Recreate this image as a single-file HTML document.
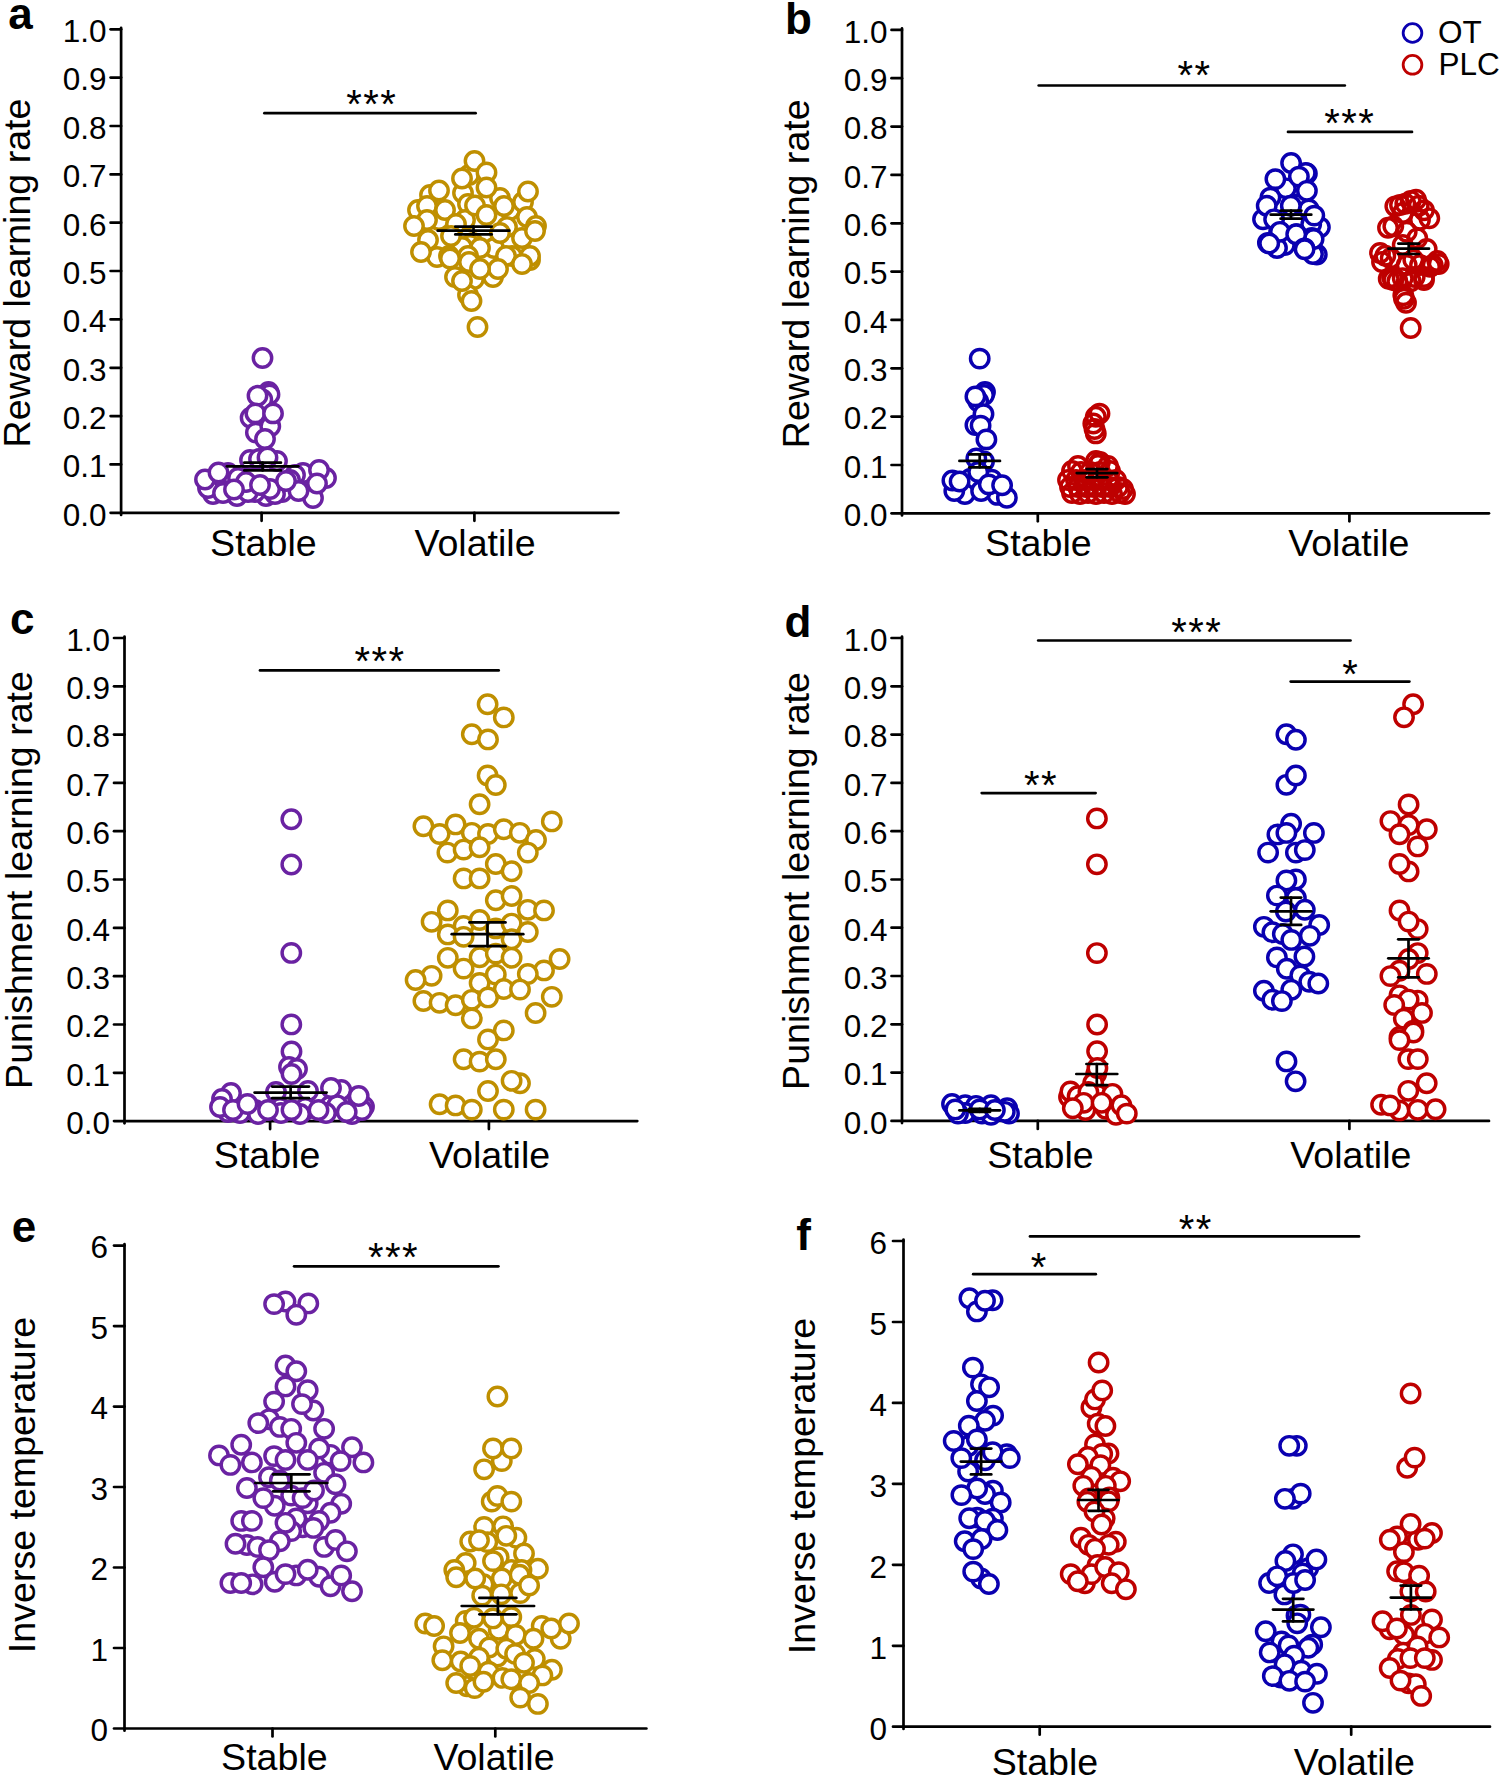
<!DOCTYPE html><html><head><meta charset="utf-8"><style>html,body{margin:0;padding:0;background:#fff;}body{width:1500px;height:1778px;overflow:hidden;}svg{display:block;}text{font-family:"Liberation Sans",sans-serif;fill:#000;}</style></head><body>
<svg width="1500" height="1778" viewBox="0 0 1500 1778">
<rect width="1500" height="1778" fill="#fff"/>
<text x="20.5" y="28.7" font-size="44" font-weight="bold" text-anchor="middle">a</text>
<text x="798.4" y="34" font-size="44" font-weight="bold" text-anchor="middle">b</text>
<text x="22.2" y="634" font-size="44" font-weight="bold" text-anchor="middle">c</text>
<text x="798.0" y="636.5" font-size="44" font-weight="bold" text-anchor="middle">d</text>
<text x="24.0" y="1242" font-size="44" font-weight="bold" text-anchor="middle">e</text>
<text x="803.5" y="1250" font-size="44" font-weight="bold" text-anchor="middle">f</text>
<text transform="translate(30,273) rotate(-90)" font-size="37.6" text-anchor="middle">Reward learning rate</text>
<text transform="translate(809,273.8) rotate(-90)" font-size="37.6" text-anchor="middle">Reward learning rate</text>
<text transform="translate(32,880) rotate(-90)" font-size="37.6" text-anchor="middle">Punishment learning rate</text>
<text transform="translate(809,881) rotate(-90)" font-size="37.6" text-anchor="middle">Punishment learning rate</text>
<text transform="translate(35,1485) rotate(-90)" font-size="37.6" text-anchor="middle">Inverse temperature</text>
<text transform="translate(815,1486) rotate(-90)" font-size="37.6" text-anchor="middle">Inverse temperature</text>
<text x="263.4" y="556.3" font-size="37.6" text-anchor="middle">Stable</text>
<text x="475.0" y="556.3" font-size="37.6" text-anchor="middle">Volatile</text>
<text x="1038.4" y="556.3" font-size="37.6" text-anchor="middle">Stable</text>
<text x="1348.8" y="556.3" font-size="37.6" text-anchor="middle">Volatile</text>
<text x="267.1" y="1168.2" font-size="37.6" text-anchor="middle">Stable</text>
<text x="489.6" y="1168.2" font-size="37.6" text-anchor="middle">Volatile</text>
<text x="1040.5" y="1168.0" font-size="37.6" text-anchor="middle">Stable</text>
<text x="1350.9" y="1168.0" font-size="37.6" text-anchor="middle">Volatile</text>
<text x="274.4" y="1770.4" font-size="37.6" text-anchor="middle">Stable</text>
<text x="494.0" y="1770.4" font-size="37.6" text-anchor="middle">Volatile</text>
<text x="1045.0" y="1774.5" font-size="37.6" text-anchor="middle">Stable</text>
<text x="1354.4" y="1774.5" font-size="37.6" text-anchor="middle">Volatile</text>
<line x1="121.1" y1="27.8" x2="121.1" y2="515.0" stroke="#000" stroke-width="2.7" stroke-linecap="round"/>
<line x1="121.1" y1="512.8" x2="618.4" y2="512.8" stroke="#000" stroke-width="2.7" stroke-linecap="round"/>
<line x1="110.6" y1="512.8" x2="121.1" y2="512.8" stroke="#000" stroke-width="2.7" stroke-linecap="round"/>
<text x="106.6" y="525.6" font-size="31.5" text-anchor="end">0.0</text>
<line x1="110.6" y1="464.4" x2="121.1" y2="464.4" stroke="#000" stroke-width="2.7" stroke-linecap="round"/>
<text x="106.6" y="477.2" font-size="31.5" text-anchor="end">0.1</text>
<line x1="110.6" y1="416.1" x2="121.1" y2="416.1" stroke="#000" stroke-width="2.7" stroke-linecap="round"/>
<text x="106.6" y="428.9" font-size="31.5" text-anchor="end">0.2</text>
<line x1="110.6" y1="367.8" x2="121.1" y2="367.8" stroke="#000" stroke-width="2.7" stroke-linecap="round"/>
<text x="106.6" y="380.6" font-size="31.5" text-anchor="end">0.3</text>
<line x1="110.6" y1="319.4" x2="121.1" y2="319.4" stroke="#000" stroke-width="2.7" stroke-linecap="round"/>
<text x="106.6" y="332.2" font-size="31.5" text-anchor="end">0.4</text>
<line x1="110.6" y1="271.0" x2="121.1" y2="271.0" stroke="#000" stroke-width="2.7" stroke-linecap="round"/>
<text x="106.6" y="283.8" font-size="31.5" text-anchor="end">0.5</text>
<line x1="110.6" y1="222.7" x2="121.1" y2="222.7" stroke="#000" stroke-width="2.7" stroke-linecap="round"/>
<text x="106.6" y="235.5" font-size="31.5" text-anchor="end">0.6</text>
<line x1="110.6" y1="174.4" x2="121.1" y2="174.4" stroke="#000" stroke-width="2.7" stroke-linecap="round"/>
<text x="106.6" y="187.2" font-size="31.5" text-anchor="end">0.7</text>
<line x1="110.6" y1="126.0" x2="121.1" y2="126.0" stroke="#000" stroke-width="2.7" stroke-linecap="round"/>
<text x="106.6" y="138.8" font-size="31.5" text-anchor="end">0.8</text>
<line x1="110.6" y1="77.6" x2="121.1" y2="77.6" stroke="#000" stroke-width="2.7" stroke-linecap="round"/>
<text x="106.6" y="90.4" font-size="31.5" text-anchor="end">0.9</text>
<line x1="110.6" y1="29.3" x2="121.1" y2="29.3" stroke="#000" stroke-width="2.7" stroke-linecap="round"/>
<text x="106.6" y="42.1" font-size="31.5" text-anchor="end">1.0</text>
<line x1="261.6" y1="512.8" x2="261.6" y2="520.8" stroke="#000" stroke-width="2.7" stroke-linecap="round"/>
<line x1="474.4" y1="512.8" x2="474.4" y2="520.8" stroke="#000" stroke-width="2.7" stroke-linecap="round"/>
<line x1="902.0" y1="28.4" x2="902.0" y2="515.5" stroke="#000" stroke-width="2.7" stroke-linecap="round"/>
<line x1="902.0" y1="513.3" x2="1489.0" y2="513.3" stroke="#000" stroke-width="2.7" stroke-linecap="round"/>
<line x1="891.5" y1="513.3" x2="902.0" y2="513.3" stroke="#000" stroke-width="2.7" stroke-linecap="round"/>
<text x="887.5" y="526.1" font-size="31.5" text-anchor="end">0.0</text>
<line x1="891.5" y1="465.0" x2="902.0" y2="465.0" stroke="#000" stroke-width="2.7" stroke-linecap="round"/>
<text x="887.5" y="477.8" font-size="31.5" text-anchor="end">0.1</text>
<line x1="891.5" y1="416.6" x2="902.0" y2="416.6" stroke="#000" stroke-width="2.7" stroke-linecap="round"/>
<text x="887.5" y="429.4" font-size="31.5" text-anchor="end">0.2</text>
<line x1="891.5" y1="368.3" x2="902.0" y2="368.3" stroke="#000" stroke-width="2.7" stroke-linecap="round"/>
<text x="887.5" y="381.1" font-size="31.5" text-anchor="end">0.3</text>
<line x1="891.5" y1="319.9" x2="902.0" y2="319.9" stroke="#000" stroke-width="2.7" stroke-linecap="round"/>
<text x="887.5" y="332.7" font-size="31.5" text-anchor="end">0.4</text>
<line x1="891.5" y1="271.6" x2="902.0" y2="271.6" stroke="#000" stroke-width="2.7" stroke-linecap="round"/>
<text x="887.5" y="284.4" font-size="31.5" text-anchor="end">0.5</text>
<line x1="891.5" y1="223.3" x2="902.0" y2="223.3" stroke="#000" stroke-width="2.7" stroke-linecap="round"/>
<text x="887.5" y="236.1" font-size="31.5" text-anchor="end">0.6</text>
<line x1="891.5" y1="174.9" x2="902.0" y2="174.9" stroke="#000" stroke-width="2.7" stroke-linecap="round"/>
<text x="887.5" y="187.7" font-size="31.5" text-anchor="end">0.7</text>
<line x1="891.5" y1="126.6" x2="902.0" y2="126.6" stroke="#000" stroke-width="2.7" stroke-linecap="round"/>
<text x="887.5" y="139.4" font-size="31.5" text-anchor="end">0.8</text>
<line x1="891.5" y1="78.2" x2="902.0" y2="78.2" stroke="#000" stroke-width="2.7" stroke-linecap="round"/>
<text x="887.5" y="91.0" font-size="31.5" text-anchor="end">0.9</text>
<line x1="891.5" y1="29.9" x2="902.0" y2="29.9" stroke="#000" stroke-width="2.7" stroke-linecap="round"/>
<text x="887.5" y="42.7" font-size="31.5" text-anchor="end">1.0</text>
<line x1="1037.8" y1="513.3" x2="1037.8" y2="521.3" stroke="#000" stroke-width="2.7" stroke-linecap="round"/>
<line x1="1349.4" y1="513.3" x2="1349.4" y2="521.3" stroke="#000" stroke-width="2.7" stroke-linecap="round"/>
<line x1="124.5" y1="636.5" x2="124.5" y2="1123.3" stroke="#000" stroke-width="2.7" stroke-linecap="round"/>
<line x1="124.5" y1="1121.1" x2="637.3" y2="1121.1" stroke="#000" stroke-width="2.7" stroke-linecap="round"/>
<line x1="114.0" y1="1121.1" x2="124.5" y2="1121.1" stroke="#000" stroke-width="2.7" stroke-linecap="round"/>
<text x="110.0" y="1133.9" font-size="31.5" text-anchor="end">0.0</text>
<line x1="114.0" y1="1072.8" x2="124.5" y2="1072.8" stroke="#000" stroke-width="2.7" stroke-linecap="round"/>
<text x="110.0" y="1085.6" font-size="31.5" text-anchor="end">0.1</text>
<line x1="114.0" y1="1024.5" x2="124.5" y2="1024.5" stroke="#000" stroke-width="2.7" stroke-linecap="round"/>
<text x="110.0" y="1037.3" font-size="31.5" text-anchor="end">0.2</text>
<line x1="114.0" y1="976.2" x2="124.5" y2="976.2" stroke="#000" stroke-width="2.7" stroke-linecap="round"/>
<text x="110.0" y="989.0" font-size="31.5" text-anchor="end">0.3</text>
<line x1="114.0" y1="927.9" x2="124.5" y2="927.9" stroke="#000" stroke-width="2.7" stroke-linecap="round"/>
<text x="110.0" y="940.7" font-size="31.5" text-anchor="end">0.4</text>
<line x1="114.0" y1="879.5" x2="124.5" y2="879.5" stroke="#000" stroke-width="2.7" stroke-linecap="round"/>
<text x="110.0" y="892.3" font-size="31.5" text-anchor="end">0.5</text>
<line x1="114.0" y1="831.2" x2="124.5" y2="831.2" stroke="#000" stroke-width="2.7" stroke-linecap="round"/>
<text x="110.0" y="844.0" font-size="31.5" text-anchor="end">0.6</text>
<line x1="114.0" y1="782.9" x2="124.5" y2="782.9" stroke="#000" stroke-width="2.7" stroke-linecap="round"/>
<text x="110.0" y="795.7" font-size="31.5" text-anchor="end">0.7</text>
<line x1="114.0" y1="734.6" x2="124.5" y2="734.6" stroke="#000" stroke-width="2.7" stroke-linecap="round"/>
<text x="110.0" y="747.4" font-size="31.5" text-anchor="end">0.8</text>
<line x1="114.0" y1="686.3" x2="124.5" y2="686.3" stroke="#000" stroke-width="2.7" stroke-linecap="round"/>
<text x="110.0" y="699.1" font-size="31.5" text-anchor="end">0.9</text>
<line x1="114.0" y1="638.0" x2="124.5" y2="638.0" stroke="#000" stroke-width="2.7" stroke-linecap="round"/>
<text x="110.0" y="650.8" font-size="31.5" text-anchor="end">1.0</text>
<line x1="270.1" y1="1121.1" x2="270.1" y2="1129.1" stroke="#000" stroke-width="2.7" stroke-linecap="round"/>
<line x1="488.9" y1="1121.1" x2="488.9" y2="1129.1" stroke="#000" stroke-width="2.7" stroke-linecap="round"/>
<line x1="902.0" y1="636.5" x2="902.0" y2="1123.1" stroke="#000" stroke-width="2.7" stroke-linecap="round"/>
<line x1="902.0" y1="1120.9" x2="1489.0" y2="1120.9" stroke="#000" stroke-width="2.7" stroke-linecap="round"/>
<line x1="891.5" y1="1120.9" x2="902.0" y2="1120.9" stroke="#000" stroke-width="2.7" stroke-linecap="round"/>
<text x="887.5" y="1133.7" font-size="31.5" text-anchor="end">0.0</text>
<line x1="891.5" y1="1072.6" x2="902.0" y2="1072.6" stroke="#000" stroke-width="2.7" stroke-linecap="round"/>
<text x="887.5" y="1085.4" font-size="31.5" text-anchor="end">0.1</text>
<line x1="891.5" y1="1024.3" x2="902.0" y2="1024.3" stroke="#000" stroke-width="2.7" stroke-linecap="round"/>
<text x="887.5" y="1037.1" font-size="31.5" text-anchor="end">0.2</text>
<line x1="891.5" y1="976.0" x2="902.0" y2="976.0" stroke="#000" stroke-width="2.7" stroke-linecap="round"/>
<text x="887.5" y="988.8" font-size="31.5" text-anchor="end">0.3</text>
<line x1="891.5" y1="927.7" x2="902.0" y2="927.7" stroke="#000" stroke-width="2.7" stroke-linecap="round"/>
<text x="887.5" y="940.5" font-size="31.5" text-anchor="end">0.4</text>
<line x1="891.5" y1="879.5" x2="902.0" y2="879.5" stroke="#000" stroke-width="2.7" stroke-linecap="round"/>
<text x="887.5" y="892.2" font-size="31.5" text-anchor="end">0.5</text>
<line x1="891.5" y1="831.2" x2="902.0" y2="831.2" stroke="#000" stroke-width="2.7" stroke-linecap="round"/>
<text x="887.5" y="844.0" font-size="31.5" text-anchor="end">0.6</text>
<line x1="891.5" y1="782.9" x2="902.0" y2="782.9" stroke="#000" stroke-width="2.7" stroke-linecap="round"/>
<text x="887.5" y="795.7" font-size="31.5" text-anchor="end">0.7</text>
<line x1="891.5" y1="734.6" x2="902.0" y2="734.6" stroke="#000" stroke-width="2.7" stroke-linecap="round"/>
<text x="887.5" y="747.4" font-size="31.5" text-anchor="end">0.8</text>
<line x1="891.5" y1="686.3" x2="902.0" y2="686.3" stroke="#000" stroke-width="2.7" stroke-linecap="round"/>
<text x="887.5" y="699.1" font-size="31.5" text-anchor="end">0.9</text>
<line x1="891.5" y1="638.0" x2="902.0" y2="638.0" stroke="#000" stroke-width="2.7" stroke-linecap="round"/>
<text x="887.5" y="650.8" font-size="31.5" text-anchor="end">1.0</text>
<line x1="1037.8" y1="1120.9" x2="1037.8" y2="1128.9" stroke="#000" stroke-width="2.7" stroke-linecap="round"/>
<line x1="1349.4" y1="1120.9" x2="1349.4" y2="1128.9" stroke="#000" stroke-width="2.7" stroke-linecap="round"/>
<line x1="124.5" y1="1244.1" x2="124.5" y2="1730.7" stroke="#000" stroke-width="2.7" stroke-linecap="round"/>
<line x1="124.5" y1="1728.5" x2="646.4" y2="1728.5" stroke="#000" stroke-width="2.7" stroke-linecap="round"/>
<line x1="114.0" y1="1728.5" x2="124.5" y2="1728.5" stroke="#000" stroke-width="2.7" stroke-linecap="round"/>
<text x="108.0" y="1741.3" font-size="31.5" text-anchor="end">0</text>
<line x1="114.0" y1="1648.0" x2="124.5" y2="1648.0" stroke="#000" stroke-width="2.7" stroke-linecap="round"/>
<text x="108.0" y="1660.8" font-size="31.5" text-anchor="end">1</text>
<line x1="114.0" y1="1567.5" x2="124.5" y2="1567.5" stroke="#000" stroke-width="2.7" stroke-linecap="round"/>
<text x="108.0" y="1580.3" font-size="31.5" text-anchor="end">2</text>
<line x1="114.0" y1="1487.0" x2="124.5" y2="1487.0" stroke="#000" stroke-width="2.7" stroke-linecap="round"/>
<text x="108.0" y="1499.8" font-size="31.5" text-anchor="end">3</text>
<line x1="114.0" y1="1406.6" x2="124.5" y2="1406.6" stroke="#000" stroke-width="2.7" stroke-linecap="round"/>
<text x="108.0" y="1419.4" font-size="31.5" text-anchor="end">4</text>
<line x1="114.0" y1="1326.1" x2="124.5" y2="1326.1" stroke="#000" stroke-width="2.7" stroke-linecap="round"/>
<text x="108.0" y="1338.9" font-size="31.5" text-anchor="end">5</text>
<line x1="114.0" y1="1245.6" x2="124.5" y2="1245.6" stroke="#000" stroke-width="2.7" stroke-linecap="round"/>
<text x="108.0" y="1258.4" font-size="31.5" text-anchor="end">6</text>
<line x1="272.5" y1="1728.5" x2="272.5" y2="1736.5" stroke="#000" stroke-width="2.7" stroke-linecap="round"/>
<line x1="495.3" y1="1728.5" x2="495.3" y2="1736.5" stroke="#000" stroke-width="2.7" stroke-linecap="round"/>
<line x1="903.5" y1="1239.5" x2="903.5" y2="1728.9" stroke="#000" stroke-width="2.7" stroke-linecap="round"/>
<line x1="903.5" y1="1726.7" x2="1490.0" y2="1726.7" stroke="#000" stroke-width="2.7" stroke-linecap="round"/>
<line x1="893.0" y1="1726.7" x2="903.5" y2="1726.7" stroke="#000" stroke-width="2.7" stroke-linecap="round"/>
<text x="887.0" y="1739.5" font-size="31.5" text-anchor="end">0</text>
<line x1="893.0" y1="1645.8" x2="903.5" y2="1645.8" stroke="#000" stroke-width="2.7" stroke-linecap="round"/>
<text x="887.0" y="1658.5" font-size="31.5" text-anchor="end">1</text>
<line x1="893.0" y1="1564.8" x2="903.5" y2="1564.8" stroke="#000" stroke-width="2.7" stroke-linecap="round"/>
<text x="887.0" y="1577.6" font-size="31.5" text-anchor="end">2</text>
<line x1="893.0" y1="1483.8" x2="903.5" y2="1483.8" stroke="#000" stroke-width="2.7" stroke-linecap="round"/>
<text x="887.0" y="1496.6" font-size="31.5" text-anchor="end">3</text>
<line x1="893.0" y1="1402.9" x2="903.5" y2="1402.9" stroke="#000" stroke-width="2.7" stroke-linecap="round"/>
<text x="887.0" y="1415.7" font-size="31.5" text-anchor="end">4</text>
<line x1="893.0" y1="1322.0" x2="903.5" y2="1322.0" stroke="#000" stroke-width="2.7" stroke-linecap="round"/>
<text x="887.0" y="1334.8" font-size="31.5" text-anchor="end">5</text>
<line x1="893.0" y1="1241.0" x2="903.5" y2="1241.0" stroke="#000" stroke-width="2.7" stroke-linecap="round"/>
<text x="887.0" y="1253.8" font-size="31.5" text-anchor="end">6</text>
<line x1="1039.7" y1="1726.7" x2="1039.7" y2="1734.7" stroke="#000" stroke-width="2.7" stroke-linecap="round"/>
<line x1="1351.2" y1="1726.7" x2="1351.2" y2="1734.7" stroke="#000" stroke-width="2.7" stroke-linecap="round"/>
<circle cx="1412.5" cy="33" r="9.35" fill="#fff" stroke="#0a00b0" stroke-width="2.8"/>
<circle cx="1412.5" cy="64.8" r="9.35" fill="#fff" stroke="#be0000" stroke-width="2.8"/>
<text x="1438" y="43.4" font-size="31.5">OT</text>
<text x="1438.5" y="75" font-size="31.5">PLC</text>
<circle cx="262.5" cy="358.0" r="9.2" fill="#fff" stroke="#6a22a2" stroke-width="3.45"/>
<circle cx="268.5" cy="392.0" r="9.2" fill="#fff" stroke="#6a22a2" stroke-width="3.45"/>
<circle cx="269.5" cy="394.5" r="9.2" fill="#fff" stroke="#6a22a2" stroke-width="3.45"/>
<circle cx="262.3" cy="399.5" r="9.2" fill="#fff" stroke="#6a22a2" stroke-width="3.45"/>
<circle cx="257.5" cy="395.8" r="9.2" fill="#fff" stroke="#6a22a2" stroke-width="3.45"/>
<circle cx="250.6" cy="417.7" r="9.2" fill="#fff" stroke="#6a22a2" stroke-width="3.45"/>
<circle cx="255.9" cy="432.6" r="9.2" fill="#fff" stroke="#6a22a2" stroke-width="3.45"/>
<circle cx="270.3" cy="426.2" r="9.2" fill="#fff" stroke="#6a22a2" stroke-width="3.45"/>
<circle cx="255.4" cy="413.4" r="9.2" fill="#fff" stroke="#6a22a2" stroke-width="3.45"/>
<circle cx="273.0" cy="413.4" r="9.2" fill="#fff" stroke="#6a22a2" stroke-width="3.45"/>
<circle cx="265.0" cy="439.0" r="9.2" fill="#fff" stroke="#6a22a2" stroke-width="3.45"/>
<circle cx="250.0" cy="460.0" r="9.2" fill="#fff" stroke="#6a22a2" stroke-width="3.45"/>
<circle cx="259.0" cy="459.0" r="9.2" fill="#fff" stroke="#6a22a2" stroke-width="3.45"/>
<circle cx="277.0" cy="461.0" r="9.2" fill="#fff" stroke="#6a22a2" stroke-width="3.45"/>
<circle cx="267.5" cy="457.5" r="9.2" fill="#fff" stroke="#6a22a2" stroke-width="3.45"/>
<circle cx="266.0" cy="496.0" r="9.2" fill="#fff" stroke="#6a22a2" stroke-width="3.45"/>
<circle cx="237.0" cy="496.0" r="9.2" fill="#fff" stroke="#6a22a2" stroke-width="3.45"/>
<circle cx="255.0" cy="492.0" r="9.2" fill="#fff" stroke="#6a22a2" stroke-width="3.45"/>
<circle cx="213.0" cy="494.0" r="9.2" fill="#fff" stroke="#6a22a2" stroke-width="3.45"/>
<circle cx="228.0" cy="473.0" r="9.2" fill="#fff" stroke="#6a22a2" stroke-width="3.45"/>
<circle cx="238.0" cy="478.0" r="9.2" fill="#fff" stroke="#6a22a2" stroke-width="3.45"/>
<circle cx="300.0" cy="480.0" r="9.2" fill="#fff" stroke="#6a22a2" stroke-width="3.45"/>
<circle cx="303.0" cy="473.0" r="9.2" fill="#fff" stroke="#6a22a2" stroke-width="3.45"/>
<circle cx="295.0" cy="475.0" r="9.2" fill="#fff" stroke="#6a22a2" stroke-width="3.45"/>
<circle cx="290.0" cy="480.0" r="9.2" fill="#fff" stroke="#6a22a2" stroke-width="3.45"/>
<circle cx="282.0" cy="492.0" r="9.2" fill="#fff" stroke="#6a22a2" stroke-width="3.45"/>
<circle cx="275.0" cy="494.0" r="9.2" fill="#fff" stroke="#6a22a2" stroke-width="3.45"/>
<circle cx="270.0" cy="489.0" r="9.2" fill="#fff" stroke="#6a22a2" stroke-width="3.45"/>
<circle cx="248.0" cy="492.0" r="9.2" fill="#fff" stroke="#6a22a2" stroke-width="3.45"/>
<circle cx="246.0" cy="482.0" r="9.2" fill="#fff" stroke="#6a22a2" stroke-width="3.45"/>
<circle cx="208.0" cy="488.0" r="9.2" fill="#fff" stroke="#6a22a2" stroke-width="3.45"/>
<circle cx="223.0" cy="493.0" r="9.2" fill="#fff" stroke="#6a22a2" stroke-width="3.45"/>
<circle cx="326.0" cy="478.0" r="9.2" fill="#fff" stroke="#6a22a2" stroke-width="3.45"/>
<circle cx="313.0" cy="498.0" r="9.2" fill="#fff" stroke="#6a22a2" stroke-width="3.45"/>
<circle cx="319.0" cy="470.0" r="9.2" fill="#fff" stroke="#6a22a2" stroke-width="3.45"/>
<circle cx="317.0" cy="483.5" r="9.2" fill="#fff" stroke="#6a22a2" stroke-width="3.45"/>
<circle cx="298.5" cy="491.0" r="9.2" fill="#fff" stroke="#6a22a2" stroke-width="3.45"/>
<circle cx="286.0" cy="481.0" r="9.2" fill="#fff" stroke="#6a22a2" stroke-width="3.45"/>
<circle cx="260.0" cy="485.0" r="9.2" fill="#fff" stroke="#6a22a2" stroke-width="3.45"/>
<circle cx="234.0" cy="489.5" r="9.2" fill="#fff" stroke="#6a22a2" stroke-width="3.45"/>
<circle cx="205.0" cy="479.5" r="9.2" fill="#fff" stroke="#6a22a2" stroke-width="3.45"/>
<circle cx="218.5" cy="472.5" r="9.2" fill="#fff" stroke="#6a22a2" stroke-width="3.45"/>
<circle cx="469.0" cy="175.0" r="9.2" fill="#fff" stroke="#bf8f00" stroke-width="3.45"/>
<circle cx="430.0" cy="195.0" r="9.2" fill="#fff" stroke="#bf8f00" stroke-width="3.45"/>
<circle cx="418.0" cy="210.0" r="9.2" fill="#fff" stroke="#bf8f00" stroke-width="3.45"/>
<circle cx="463.0" cy="193.0" r="9.2" fill="#fff" stroke="#bf8f00" stroke-width="3.45"/>
<circle cx="468.0" cy="204.0" r="9.2" fill="#fff" stroke="#bf8f00" stroke-width="3.45"/>
<circle cx="500.0" cy="198.0" r="9.2" fill="#fff" stroke="#bf8f00" stroke-width="3.45"/>
<circle cx="510.0" cy="210.0" r="9.2" fill="#fff" stroke="#bf8f00" stroke-width="3.45"/>
<circle cx="523.0" cy="202.0" r="9.2" fill="#fff" stroke="#bf8f00" stroke-width="3.45"/>
<circle cx="439.0" cy="220.0" r="9.2" fill="#fff" stroke="#bf8f00" stroke-width="3.45"/>
<circle cx="507.0" cy="227.0" r="9.2" fill="#fff" stroke="#bf8f00" stroke-width="3.45"/>
<circle cx="473.0" cy="243.0" r="9.2" fill="#fff" stroke="#bf8f00" stroke-width="3.45"/>
<circle cx="494.0" cy="248.0" r="9.2" fill="#fff" stroke="#bf8f00" stroke-width="3.45"/>
<circle cx="465.0" cy="220.0" r="9.2" fill="#fff" stroke="#bf8f00" stroke-width="3.45"/>
<circle cx="470.0" cy="245.0" r="9.2" fill="#fff" stroke="#bf8f00" stroke-width="3.45"/>
<circle cx="462.0" cy="247.0" r="9.2" fill="#fff" stroke="#bf8f00" stroke-width="3.45"/>
<circle cx="437.0" cy="257.0" r="9.2" fill="#fff" stroke="#bf8f00" stroke-width="3.45"/>
<circle cx="530.0" cy="260.0" r="9.2" fill="#fff" stroke="#bf8f00" stroke-width="3.45"/>
<circle cx="493.0" cy="277.0" r="9.2" fill="#fff" stroke="#bf8f00" stroke-width="3.45"/>
<circle cx="455.0" cy="277.0" r="9.2" fill="#fff" stroke="#bf8f00" stroke-width="3.45"/>
<circle cx="474.0" cy="279.0" r="9.2" fill="#fff" stroke="#bf8f00" stroke-width="3.45"/>
<circle cx="468.0" cy="295.0" r="9.2" fill="#fff" stroke="#bf8f00" stroke-width="3.45"/>
<circle cx="474.5" cy="161.0" r="9.2" fill="#fff" stroke="#bf8f00" stroke-width="3.45"/>
<circle cx="486.5" cy="172.5" r="9.2" fill="#fff" stroke="#bf8f00" stroke-width="3.45"/>
<circle cx="462.0" cy="178.5" r="9.2" fill="#fff" stroke="#bf8f00" stroke-width="3.45"/>
<circle cx="486.5" cy="187.5" r="9.2" fill="#fff" stroke="#bf8f00" stroke-width="3.45"/>
<circle cx="439.0" cy="190.5" r="9.2" fill="#fff" stroke="#bf8f00" stroke-width="3.45"/>
<circle cx="528.0" cy="191.5" r="9.2" fill="#fff" stroke="#bf8f00" stroke-width="3.45"/>
<circle cx="427.0" cy="206.0" r="9.2" fill="#fff" stroke="#bf8f00" stroke-width="3.45"/>
<circle cx="445.0" cy="210.0" r="9.2" fill="#fff" stroke="#bf8f00" stroke-width="3.45"/>
<circle cx="475.0" cy="205.5" r="9.2" fill="#fff" stroke="#bf8f00" stroke-width="3.45"/>
<circle cx="504.0" cy="206.0" r="9.2" fill="#fff" stroke="#bf8f00" stroke-width="3.45"/>
<circle cx="486.5" cy="215.0" r="9.2" fill="#fff" stroke="#bf8f00" stroke-width="3.45"/>
<circle cx="527.0" cy="217.0" r="9.2" fill="#fff" stroke="#bf8f00" stroke-width="3.45"/>
<circle cx="427.0" cy="220.0" r="9.2" fill="#fff" stroke="#bf8f00" stroke-width="3.45"/>
<circle cx="414.0" cy="226.0" r="9.2" fill="#fff" stroke="#bf8f00" stroke-width="3.45"/>
<circle cx="456.0" cy="224.0" r="9.2" fill="#fff" stroke="#bf8f00" stroke-width="3.45"/>
<circle cx="536.0" cy="226.0" r="9.2" fill="#fff" stroke="#bf8f00" stroke-width="3.45"/>
<circle cx="500.0" cy="233.0" r="9.2" fill="#fff" stroke="#bf8f00" stroke-width="3.45"/>
<circle cx="522.0" cy="238.0" r="9.2" fill="#fff" stroke="#bf8f00" stroke-width="3.45"/>
<circle cx="451.0" cy="236.0" r="9.2" fill="#fff" stroke="#bf8f00" stroke-width="3.45"/>
<circle cx="428.0" cy="240.0" r="9.2" fill="#fff" stroke="#bf8f00" stroke-width="3.45"/>
<circle cx="421.0" cy="252.0" r="9.2" fill="#fff" stroke="#bf8f00" stroke-width="3.45"/>
<circle cx="480.0" cy="248.0" r="9.2" fill="#fff" stroke="#bf8f00" stroke-width="3.45"/>
<circle cx="449.0" cy="256.0" r="9.2" fill="#fff" stroke="#bf8f00" stroke-width="3.45"/>
<circle cx="530.0" cy="256.0" r="9.2" fill="#fff" stroke="#bf8f00" stroke-width="3.45"/>
<circle cx="512.0" cy="256.0" r="9.2" fill="#fff" stroke="#bf8f00" stroke-width="3.45"/>
<circle cx="468.0" cy="256.0" r="9.2" fill="#fff" stroke="#bf8f00" stroke-width="3.45"/>
<circle cx="535.0" cy="231.0" r="9.2" fill="#fff" stroke="#bf8f00" stroke-width="3.45"/>
<circle cx="450.0" cy="258.5" r="9.2" fill="#fff" stroke="#bf8f00" stroke-width="3.45"/>
<circle cx="469.0" cy="262.0" r="9.2" fill="#fff" stroke="#bf8f00" stroke-width="3.45"/>
<circle cx="506.0" cy="256.0" r="9.2" fill="#fff" stroke="#bf8f00" stroke-width="3.45"/>
<circle cx="522.0" cy="264.0" r="9.2" fill="#fff" stroke="#bf8f00" stroke-width="3.45"/>
<circle cx="498.0" cy="269.0" r="9.2" fill="#fff" stroke="#bf8f00" stroke-width="3.45"/>
<circle cx="480.0" cy="269.0" r="9.2" fill="#fff" stroke="#bf8f00" stroke-width="3.45"/>
<circle cx="462.0" cy="281.0" r="9.2" fill="#fff" stroke="#bf8f00" stroke-width="3.45"/>
<circle cx="471.5" cy="301.0" r="9.2" fill="#fff" stroke="#bf8f00" stroke-width="3.45"/>
<circle cx="477.5" cy="327.0" r="9.2" fill="#fff" stroke="#bf8f00" stroke-width="3.45"/>
<circle cx="979.7" cy="358.6" r="9.2" fill="#fff" stroke="#0a00b0" stroke-width="3.45"/>
<circle cx="985.0" cy="392.0" r="9.2" fill="#fff" stroke="#0a00b0" stroke-width="3.45"/>
<circle cx="984.0" cy="395.0" r="9.2" fill="#fff" stroke="#0a00b0" stroke-width="3.45"/>
<circle cx="978.2" cy="401.2" r="9.2" fill="#fff" stroke="#0a00b0" stroke-width="3.45"/>
<circle cx="975.4" cy="396.4" r="9.2" fill="#fff" stroke="#0a00b0" stroke-width="3.45"/>
<circle cx="975.4" cy="425.1" r="9.2" fill="#fff" stroke="#0a00b0" stroke-width="3.45"/>
<circle cx="983.5" cy="414.1" r="9.2" fill="#fff" stroke="#0a00b0" stroke-width="3.45"/>
<circle cx="980.6" cy="425.6" r="9.2" fill="#fff" stroke="#0a00b0" stroke-width="3.45"/>
<circle cx="986.4" cy="439.4" r="9.2" fill="#fff" stroke="#0a00b0" stroke-width="3.45"/>
<circle cx="984.0" cy="461.4" r="9.2" fill="#fff" stroke="#0a00b0" stroke-width="3.45"/>
<circle cx="976.3" cy="458.5" r="9.2" fill="#fff" stroke="#0a00b0" stroke-width="3.45"/>
<circle cx="970.6" cy="478.6" r="9.2" fill="#fff" stroke="#0a00b0" stroke-width="3.45"/>
<circle cx="991.6" cy="479.6" r="9.2" fill="#fff" stroke="#0a00b0" stroke-width="3.45"/>
<circle cx="997.4" cy="494.9" r="9.2" fill="#fff" stroke="#0a00b0" stroke-width="3.45"/>
<circle cx="978.2" cy="472.0" r="9.2" fill="#fff" stroke="#0a00b0" stroke-width="3.45"/>
<circle cx="964.9" cy="494.0" r="9.2" fill="#fff" stroke="#0a00b0" stroke-width="3.45"/>
<circle cx="954.3" cy="491.0" r="9.2" fill="#fff" stroke="#0a00b0" stroke-width="3.45"/>
<circle cx="952.4" cy="480.5" r="9.2" fill="#fff" stroke="#0a00b0" stroke-width="3.45"/>
<circle cx="959.6" cy="481.5" r="9.2" fill="#fff" stroke="#0a00b0" stroke-width="3.45"/>
<circle cx="981.1" cy="491.0" r="9.2" fill="#fff" stroke="#0a00b0" stroke-width="3.45"/>
<circle cx="988.8" cy="484.4" r="9.2" fill="#fff" stroke="#0a00b0" stroke-width="3.45"/>
<circle cx="1006.9" cy="497.7" r="9.2" fill="#fff" stroke="#0a00b0" stroke-width="3.45"/>
<circle cx="1002.1" cy="485.3" r="9.2" fill="#fff" stroke="#0a00b0" stroke-width="3.45"/>
<circle cx="1099.5" cy="413.6" r="9.2" fill="none" stroke="#be0000" stroke-width="3.45"/>
<circle cx="1095.8" cy="416.7" r="9.2" fill="none" stroke="#be0000" stroke-width="3.45"/>
<circle cx="1093.3" cy="423.5" r="9.2" fill="none" stroke="#be0000" stroke-width="3.45"/>
<circle cx="1094.5" cy="429.0" r="9.2" fill="none" stroke="#be0000" stroke-width="3.45"/>
<circle cx="1095.8" cy="433.4" r="9.2" fill="none" stroke="#be0000" stroke-width="3.45"/>
<circle cx="1096.0" cy="461.0" r="9.2" fill="none" stroke="#be0000" stroke-width="3.45"/>
<circle cx="1100.0" cy="462.0" r="9.2" fill="none" stroke="#be0000" stroke-width="3.45"/>
<circle cx="1078.0" cy="466.0" r="9.2" fill="none" stroke="#be0000" stroke-width="3.45"/>
<circle cx="1098.0" cy="465.0" r="9.2" fill="none" stroke="#be0000" stroke-width="3.45"/>
<circle cx="1108.0" cy="466.0" r="9.2" fill="none" stroke="#be0000" stroke-width="3.45"/>
<circle cx="1072.0" cy="471.0" r="9.2" fill="none" stroke="#be0000" stroke-width="3.45"/>
<circle cx="1081.0" cy="472.0" r="9.2" fill="none" stroke="#be0000" stroke-width="3.45"/>
<circle cx="1090.0" cy="472.0" r="9.2" fill="none" stroke="#be0000" stroke-width="3.45"/>
<circle cx="1100.0" cy="472.0" r="9.2" fill="none" stroke="#be0000" stroke-width="3.45"/>
<circle cx="1110.0" cy="471.0" r="9.2" fill="none" stroke="#be0000" stroke-width="3.45"/>
<circle cx="1068.0" cy="480.0" r="9.2" fill="none" stroke="#be0000" stroke-width="3.45"/>
<circle cx="1076.0" cy="480.0" r="9.2" fill="none" stroke="#be0000" stroke-width="3.45"/>
<circle cx="1084.0" cy="480.0" r="9.2" fill="none" stroke="#be0000" stroke-width="3.45"/>
<circle cx="1092.0" cy="480.0" r="9.2" fill="none" stroke="#be0000" stroke-width="3.45"/>
<circle cx="1100.0" cy="480.0" r="9.2" fill="none" stroke="#be0000" stroke-width="3.45"/>
<circle cx="1108.0" cy="480.0" r="9.2" fill="none" stroke="#be0000" stroke-width="3.45"/>
<circle cx="1116.0" cy="480.0" r="9.2" fill="none" stroke="#be0000" stroke-width="3.45"/>
<circle cx="1070.0" cy="487.0" r="9.2" fill="none" stroke="#be0000" stroke-width="3.45"/>
<circle cx="1078.0" cy="487.0" r="9.2" fill="none" stroke="#be0000" stroke-width="3.45"/>
<circle cx="1086.0" cy="487.0" r="9.2" fill="none" stroke="#be0000" stroke-width="3.45"/>
<circle cx="1094.0" cy="487.0" r="9.2" fill="none" stroke="#be0000" stroke-width="3.45"/>
<circle cx="1102.0" cy="487.0" r="9.2" fill="none" stroke="#be0000" stroke-width="3.45"/>
<circle cx="1110.0" cy="487.0" r="9.2" fill="none" stroke="#be0000" stroke-width="3.45"/>
<circle cx="1118.0" cy="487.0" r="9.2" fill="none" stroke="#be0000" stroke-width="3.45"/>
<circle cx="1123.0" cy="489.0" r="9.2" fill="none" stroke="#be0000" stroke-width="3.45"/>
<circle cx="1072.0" cy="493.0" r="9.2" fill="none" stroke="#be0000" stroke-width="3.45"/>
<circle cx="1080.0" cy="494.0" r="9.2" fill="none" stroke="#be0000" stroke-width="3.45"/>
<circle cx="1088.0" cy="493.0" r="9.2" fill="none" stroke="#be0000" stroke-width="3.45"/>
<circle cx="1096.0" cy="494.0" r="9.2" fill="none" stroke="#be0000" stroke-width="3.45"/>
<circle cx="1104.0" cy="493.0" r="9.2" fill="none" stroke="#be0000" stroke-width="3.45"/>
<circle cx="1112.0" cy="494.0" r="9.2" fill="none" stroke="#be0000" stroke-width="3.45"/>
<circle cx="1120.0" cy="493.0" r="9.2" fill="none" stroke="#be0000" stroke-width="3.45"/>
<circle cx="1125.0" cy="494.0" r="9.2" fill="none" stroke="#be0000" stroke-width="3.45"/>
<circle cx="1306.9" cy="173.5" r="9.2" fill="#fff" stroke="#0a00b0" stroke-width="3.45"/>
<circle cx="1305.7" cy="172.9" r="9.2" fill="#fff" stroke="#0a00b0" stroke-width="3.45"/>
<circle cx="1285.9" cy="188.3" r="9.2" fill="#fff" stroke="#0a00b0" stroke-width="3.45"/>
<circle cx="1270.4" cy="197.6" r="9.2" fill="#fff" stroke="#0a00b0" stroke-width="3.45"/>
<circle cx="1297.0" cy="204.4" r="9.2" fill="#fff" stroke="#0a00b0" stroke-width="3.45"/>
<circle cx="1308.8" cy="209.4" r="9.2" fill="#fff" stroke="#0a00b0" stroke-width="3.45"/>
<circle cx="1263.0" cy="219.3" r="9.2" fill="#fff" stroke="#0a00b0" stroke-width="3.45"/>
<circle cx="1319.9" cy="227.3" r="9.2" fill="#fff" stroke="#0a00b0" stroke-width="3.45"/>
<circle cx="1311.2" cy="224.2" r="9.2" fill="#fff" stroke="#0a00b0" stroke-width="3.45"/>
<circle cx="1279.1" cy="231.6" r="9.2" fill="#fff" stroke="#0a00b0" stroke-width="3.45"/>
<circle cx="1284.6" cy="242.8" r="9.2" fill="#fff" stroke="#0a00b0" stroke-width="3.45"/>
<circle cx="1311.8" cy="237.8" r="9.2" fill="#fff" stroke="#0a00b0" stroke-width="3.45"/>
<circle cx="1316.8" cy="254.5" r="9.2" fill="#fff" stroke="#0a00b0" stroke-width="3.45"/>
<circle cx="1313.0" cy="254.0" r="9.2" fill="#fff" stroke="#0a00b0" stroke-width="3.45"/>
<circle cx="1284.8" cy="245.0" r="9.2" fill="#fff" stroke="#0a00b0" stroke-width="3.45"/>
<circle cx="1277.0" cy="248.0" r="9.2" fill="#fff" stroke="#0a00b0" stroke-width="3.45"/>
<circle cx="1313.6" cy="239.0" r="9.2" fill="#fff" stroke="#0a00b0" stroke-width="3.45"/>
<circle cx="1291.1" cy="163.0" r="9.2" fill="#fff" stroke="#0a00b0" stroke-width="3.45"/>
<circle cx="1275.4" cy="179.1" r="9.2" fill="#fff" stroke="#0a00b0" stroke-width="3.45"/>
<circle cx="1298.9" cy="176.6" r="9.2" fill="#fff" stroke="#0a00b0" stroke-width="3.45"/>
<circle cx="1306.9" cy="190.8" r="9.2" fill="#fff" stroke="#0a00b0" stroke-width="3.45"/>
<circle cx="1266.7" cy="205.7" r="9.2" fill="#fff" stroke="#0a00b0" stroke-width="3.45"/>
<circle cx="1290.8" cy="205.7" r="9.2" fill="#fff" stroke="#0a00b0" stroke-width="3.45"/>
<circle cx="1314.3" cy="215.6" r="9.2" fill="#fff" stroke="#0a00b0" stroke-width="3.45"/>
<circle cx="1274.1" cy="219.3" r="9.2" fill="#fff" stroke="#0a00b0" stroke-width="3.45"/>
<circle cx="1296.4" cy="234.1" r="9.2" fill="#fff" stroke="#0a00b0" stroke-width="3.45"/>
<circle cx="1280.0" cy="231.8" r="9.2" fill="#fff" stroke="#0a00b0" stroke-width="3.45"/>
<circle cx="1296.2" cy="234.2" r="9.2" fill="#fff" stroke="#0a00b0" stroke-width="3.45"/>
<circle cx="1267.9" cy="242.8" r="9.2" fill="#fff" stroke="#0a00b0" stroke-width="3.45"/>
<circle cx="1269.2" cy="243.5" r="9.2" fill="#fff" stroke="#0a00b0" stroke-width="3.45"/>
<circle cx="1304.4" cy="248.3" r="9.2" fill="#fff" stroke="#0a00b0" stroke-width="3.45"/>
<circle cx="1304.6" cy="249.2" r="9.2" fill="#fff" stroke="#0a00b0" stroke-width="3.45"/>
<circle cx="1395.3" cy="206.3" r="9.2" fill="none" stroke="#be0000" stroke-width="3.45"/>
<circle cx="1400.0" cy="205.0" r="9.2" fill="none" stroke="#be0000" stroke-width="3.45"/>
<circle cx="1405.3" cy="203.7" r="9.2" fill="none" stroke="#be0000" stroke-width="3.45"/>
<circle cx="1410.7" cy="201.0" r="9.2" fill="none" stroke="#be0000" stroke-width="3.45"/>
<circle cx="1416.0" cy="199.7" r="9.2" fill="none" stroke="#be0000" stroke-width="3.45"/>
<circle cx="1418.7" cy="205.7" r="9.2" fill="none" stroke="#be0000" stroke-width="3.45"/>
<circle cx="1424.0" cy="210.3" r="9.2" fill="none" stroke="#be0000" stroke-width="3.45"/>
<circle cx="1429.3" cy="218.3" r="9.2" fill="none" stroke="#be0000" stroke-width="3.45"/>
<circle cx="1420.0" cy="219.7" r="9.2" fill="none" stroke="#be0000" stroke-width="3.45"/>
<circle cx="1402.7" cy="213.0" r="9.2" fill="none" stroke="#be0000" stroke-width="3.45"/>
<circle cx="1388.0" cy="227.7" r="9.2" fill="none" stroke="#be0000" stroke-width="3.45"/>
<circle cx="1393.3" cy="226.3" r="9.2" fill="none" stroke="#be0000" stroke-width="3.45"/>
<circle cx="1406.7" cy="231.7" r="9.2" fill="none" stroke="#be0000" stroke-width="3.45"/>
<circle cx="1417.3" cy="238.3" r="9.2" fill="none" stroke="#be0000" stroke-width="3.45"/>
<circle cx="1402.7" cy="245.0" r="9.2" fill="none" stroke="#be0000" stroke-width="3.45"/>
<circle cx="1380.0" cy="253.0" r="9.2" fill="none" stroke="#be0000" stroke-width="3.45"/>
<circle cx="1385.3" cy="255.7" r="9.2" fill="none" stroke="#be0000" stroke-width="3.45"/>
<circle cx="1390.7" cy="258.3" r="9.2" fill="none" stroke="#be0000" stroke-width="3.45"/>
<circle cx="1426.7" cy="249.0" r="9.2" fill="none" stroke="#be0000" stroke-width="3.45"/>
<circle cx="1437.3" cy="261.0" r="9.2" fill="none" stroke="#be0000" stroke-width="3.45"/>
<circle cx="1432.7" cy="265.0" r="9.2" fill="none" stroke="#be0000" stroke-width="3.45"/>
<circle cx="1413.3" cy="259.7" r="9.2" fill="none" stroke="#be0000" stroke-width="3.45"/>
<circle cx="1420.0" cy="265.0" r="9.2" fill="none" stroke="#be0000" stroke-width="3.45"/>
<circle cx="1406.7" cy="265.0" r="9.2" fill="none" stroke="#be0000" stroke-width="3.45"/>
<circle cx="1392.0" cy="277.0" r="9.2" fill="none" stroke="#be0000" stroke-width="3.45"/>
<circle cx="1402.7" cy="278.3" r="9.2" fill="none" stroke="#be0000" stroke-width="3.45"/>
<circle cx="1414.7" cy="277.0" r="9.2" fill="none" stroke="#be0000" stroke-width="3.45"/>
<circle cx="1424.0" cy="277.0" r="9.2" fill="none" stroke="#be0000" stroke-width="3.45"/>
<circle cx="1393.3" cy="280.0" r="9.2" fill="none" stroke="#be0000" stroke-width="3.45"/>
<circle cx="1388.7" cy="278.7" r="9.2" fill="none" stroke="#be0000" stroke-width="3.45"/>
<circle cx="1397.3" cy="281.3" r="9.2" fill="none" stroke="#be0000" stroke-width="3.45"/>
<circle cx="1410.7" cy="281.3" r="9.2" fill="none" stroke="#be0000" stroke-width="3.45"/>
<circle cx="1424.0" cy="280.0" r="9.2" fill="none" stroke="#be0000" stroke-width="3.45"/>
<circle cx="1438.7" cy="264.0" r="9.2" fill="none" stroke="#be0000" stroke-width="3.45"/>
<circle cx="1430.0" cy="266.7" r="9.2" fill="none" stroke="#be0000" stroke-width="3.45"/>
<circle cx="1382.0" cy="262.0" r="9.2" fill="none" stroke="#be0000" stroke-width="3.45"/>
<circle cx="1403.3" cy="295.3" r="9.2" fill="none" stroke="#be0000" stroke-width="3.45"/>
<circle cx="1404.0" cy="298.7" r="9.2" fill="none" stroke="#be0000" stroke-width="3.45"/>
<circle cx="1406.0" cy="302.7" r="9.2" fill="none" stroke="#be0000" stroke-width="3.45"/>
<circle cx="1410.7" cy="328.0" r="9.2" fill="none" stroke="#be0000" stroke-width="3.45"/>
<circle cx="291.3" cy="819.2" r="9.2" fill="#fff" stroke="#6a22a2" stroke-width="3.45"/>
<circle cx="291.3" cy="864.5" r="9.2" fill="#fff" stroke="#6a22a2" stroke-width="3.45"/>
<circle cx="291.3" cy="952.9" r="9.2" fill="#fff" stroke="#6a22a2" stroke-width="3.45"/>
<circle cx="291.3" cy="1024.4" r="9.2" fill="#fff" stroke="#6a22a2" stroke-width="3.45"/>
<circle cx="291.5" cy="1051.5" r="9.2" fill="#fff" stroke="#6a22a2" stroke-width="3.45"/>
<circle cx="289.0" cy="1067.0" r="9.2" fill="#fff" stroke="#6a22a2" stroke-width="3.45"/>
<circle cx="297.0" cy="1069.0" r="9.2" fill="#fff" stroke="#6a22a2" stroke-width="3.45"/>
<circle cx="291.5" cy="1074.0" r="9.2" fill="#fff" stroke="#6a22a2" stroke-width="3.45"/>
<circle cx="276.0" cy="1092.0" r="9.2" fill="#fff" stroke="#6a22a2" stroke-width="3.45"/>
<circle cx="308.0" cy="1091.0" r="9.2" fill="#fff" stroke="#6a22a2" stroke-width="3.45"/>
<circle cx="231.0" cy="1093.0" r="9.2" fill="#fff" stroke="#6a22a2" stroke-width="3.45"/>
<circle cx="222.0" cy="1099.0" r="9.2" fill="#fff" stroke="#6a22a2" stroke-width="3.45"/>
<circle cx="305.0" cy="1110.0" r="9.2" fill="#fff" stroke="#6a22a2" stroke-width="3.45"/>
<circle cx="280.0" cy="1108.0" r="9.2" fill="#fff" stroke="#6a22a2" stroke-width="3.45"/>
<circle cx="255.0" cy="1110.0" r="9.2" fill="#fff" stroke="#6a22a2" stroke-width="3.45"/>
<circle cx="330.0" cy="1106.0" r="9.2" fill="#fff" stroke="#6a22a2" stroke-width="3.45"/>
<circle cx="340.0" cy="1100.0" r="9.2" fill="#fff" stroke="#6a22a2" stroke-width="3.45"/>
<circle cx="341.3" cy="1090.0" r="9.2" fill="#fff" stroke="#6a22a2" stroke-width="3.45"/>
<circle cx="337.3" cy="1105.3" r="9.2" fill="#fff" stroke="#6a22a2" stroke-width="3.45"/>
<circle cx="364.0" cy="1106.7" r="9.2" fill="#fff" stroke="#6a22a2" stroke-width="3.45"/>
<circle cx="305.3" cy="1108.0" r="9.2" fill="#fff" stroke="#6a22a2" stroke-width="3.45"/>
<circle cx="240.0" cy="1113.0" r="9.2" fill="#fff" stroke="#6a22a2" stroke-width="3.45"/>
<circle cx="258.0" cy="1114.0" r="9.2" fill="#fff" stroke="#6a22a2" stroke-width="3.45"/>
<circle cx="281.0" cy="1113.0" r="9.2" fill="#fff" stroke="#6a22a2" stroke-width="3.45"/>
<circle cx="300.0" cy="1114.0" r="9.2" fill="#fff" stroke="#6a22a2" stroke-width="3.45"/>
<circle cx="326.0" cy="1113.0" r="9.2" fill="#fff" stroke="#6a22a2" stroke-width="3.45"/>
<circle cx="352.0" cy="1114.0" r="9.2" fill="#fff" stroke="#6a22a2" stroke-width="3.45"/>
<circle cx="362.0" cy="1110.0" r="9.2" fill="#fff" stroke="#6a22a2" stroke-width="3.45"/>
<circle cx="228.0" cy="1112.0" r="9.2" fill="#fff" stroke="#6a22a2" stroke-width="3.45"/>
<circle cx="331.0" cy="1088.0" r="9.2" fill="#fff" stroke="#6a22a2" stroke-width="3.45"/>
<circle cx="358.7" cy="1096.0" r="9.2" fill="#fff" stroke="#6a22a2" stroke-width="3.45"/>
<circle cx="220.0" cy="1107.0" r="9.2" fill="#fff" stroke="#6a22a2" stroke-width="3.45"/>
<circle cx="233.0" cy="1110.0" r="9.2" fill="#fff" stroke="#6a22a2" stroke-width="3.45"/>
<circle cx="247.5" cy="1104.0" r="9.2" fill="#fff" stroke="#6a22a2" stroke-width="3.45"/>
<circle cx="268.0" cy="1110.0" r="9.2" fill="#fff" stroke="#6a22a2" stroke-width="3.45"/>
<circle cx="291.5" cy="1110.0" r="9.2" fill="#fff" stroke="#6a22a2" stroke-width="3.45"/>
<circle cx="318.5" cy="1110.0" r="9.2" fill="#fff" stroke="#6a22a2" stroke-width="3.45"/>
<circle cx="346.7" cy="1112.0" r="9.2" fill="#fff" stroke="#6a22a2" stroke-width="3.45"/>
<circle cx="487.6" cy="704.2" r="9.2" fill="#fff" stroke="#bf8f00" stroke-width="3.45"/>
<circle cx="503.8" cy="717.4" r="9.2" fill="#fff" stroke="#bf8f00" stroke-width="3.45"/>
<circle cx="471.8" cy="734.2" r="9.2" fill="#fff" stroke="#bf8f00" stroke-width="3.45"/>
<circle cx="488.0" cy="739.4" r="9.2" fill="#fff" stroke="#bf8f00" stroke-width="3.45"/>
<circle cx="487.6" cy="775.4" r="9.2" fill="#fff" stroke="#bf8f00" stroke-width="3.45"/>
<circle cx="495.8" cy="785.0" r="9.2" fill="#fff" stroke="#bf8f00" stroke-width="3.45"/>
<circle cx="479.6" cy="804.2" r="9.2" fill="#fff" stroke="#bf8f00" stroke-width="3.45"/>
<circle cx="423.4" cy="826.2" r="9.2" fill="#fff" stroke="#bf8f00" stroke-width="3.45"/>
<circle cx="439.6" cy="834.0" r="9.2" fill="#fff" stroke="#bf8f00" stroke-width="3.45"/>
<circle cx="455.6" cy="824.4" r="9.2" fill="#fff" stroke="#bf8f00" stroke-width="3.45"/>
<circle cx="471.8" cy="832.8" r="9.2" fill="#fff" stroke="#bf8f00" stroke-width="3.45"/>
<circle cx="488.0" cy="834.0" r="9.2" fill="#fff" stroke="#bf8f00" stroke-width="3.45"/>
<circle cx="503.8" cy="829.2" r="9.2" fill="#fff" stroke="#bf8f00" stroke-width="3.45"/>
<circle cx="519.8" cy="832.8" r="9.2" fill="#fff" stroke="#bf8f00" stroke-width="3.45"/>
<circle cx="551.8" cy="821.4" r="9.2" fill="#fff" stroke="#bf8f00" stroke-width="3.45"/>
<circle cx="536.0" cy="840.0" r="9.2" fill="#fff" stroke="#bf8f00" stroke-width="3.45"/>
<circle cx="527.8" cy="852.6" r="9.2" fill="#fff" stroke="#bf8f00" stroke-width="3.45"/>
<circle cx="447.4" cy="852.6" r="9.2" fill="#fff" stroke="#bf8f00" stroke-width="3.45"/>
<circle cx="463.6" cy="849.6" r="9.2" fill="#fff" stroke="#bf8f00" stroke-width="3.45"/>
<circle cx="479.6" cy="847.2" r="9.2" fill="#fff" stroke="#bf8f00" stroke-width="3.45"/>
<circle cx="495.8" cy="864.0" r="9.2" fill="#fff" stroke="#bf8f00" stroke-width="3.45"/>
<circle cx="511.6" cy="871.2" r="9.2" fill="#fff" stroke="#bf8f00" stroke-width="3.45"/>
<circle cx="463.6" cy="878.4" r="9.2" fill="#fff" stroke="#bf8f00" stroke-width="3.45"/>
<circle cx="479.6" cy="878.4" r="9.2" fill="#fff" stroke="#bf8f00" stroke-width="3.45"/>
<circle cx="495.8" cy="900.2" r="9.2" fill="#fff" stroke="#bf8f00" stroke-width="3.45"/>
<circle cx="511.6" cy="896.0" r="9.2" fill="#fff" stroke="#bf8f00" stroke-width="3.45"/>
<circle cx="527.8" cy="909.8" r="9.2" fill="#fff" stroke="#bf8f00" stroke-width="3.45"/>
<circle cx="544.0" cy="910.4" r="9.2" fill="#fff" stroke="#bf8f00" stroke-width="3.45"/>
<circle cx="447.8" cy="910.4" r="9.2" fill="#fff" stroke="#bf8f00" stroke-width="3.45"/>
<circle cx="431.6" cy="921.8" r="9.2" fill="#fff" stroke="#bf8f00" stroke-width="3.45"/>
<circle cx="463.6" cy="926.0" r="9.2" fill="#fff" stroke="#bf8f00" stroke-width="3.45"/>
<circle cx="479.6" cy="920.0" r="9.2" fill="#fff" stroke="#bf8f00" stroke-width="3.45"/>
<circle cx="495.8" cy="928.4" r="9.2" fill="#fff" stroke="#bf8f00" stroke-width="3.45"/>
<circle cx="511.6" cy="923.6" r="9.2" fill="#fff" stroke="#bf8f00" stroke-width="3.45"/>
<circle cx="527.8" cy="932.0" r="9.2" fill="#fff" stroke="#bf8f00" stroke-width="3.45"/>
<circle cx="447.8" cy="934.4" r="9.2" fill="#fff" stroke="#bf8f00" stroke-width="3.45"/>
<circle cx="463.6" cy="936.8" r="9.2" fill="#fff" stroke="#bf8f00" stroke-width="3.45"/>
<circle cx="511.6" cy="939.2" r="9.2" fill="#fff" stroke="#bf8f00" stroke-width="3.45"/>
<circle cx="447.8" cy="957.8" r="9.2" fill="#fff" stroke="#bf8f00" stroke-width="3.45"/>
<circle cx="479.6" cy="957.2" r="9.2" fill="#fff" stroke="#bf8f00" stroke-width="3.45"/>
<circle cx="495.8" cy="953.6" r="9.2" fill="#fff" stroke="#bf8f00" stroke-width="3.45"/>
<circle cx="511.6" cy="957.8" r="9.2" fill="#fff" stroke="#bf8f00" stroke-width="3.45"/>
<circle cx="463.6" cy="968.6" r="9.2" fill="#fff" stroke="#bf8f00" stroke-width="3.45"/>
<circle cx="559.6" cy="959.0" r="9.2" fill="#fff" stroke="#bf8f00" stroke-width="3.45"/>
<circle cx="544.0" cy="970.4" r="9.2" fill="#fff" stroke="#bf8f00" stroke-width="3.45"/>
<circle cx="527.8" cy="974.0" r="9.2" fill="#fff" stroke="#bf8f00" stroke-width="3.45"/>
<circle cx="431.6" cy="975.8" r="9.2" fill="#fff" stroke="#bf8f00" stroke-width="3.45"/>
<circle cx="415.6" cy="980.0" r="9.2" fill="#fff" stroke="#bf8f00" stroke-width="3.45"/>
<circle cx="479.6" cy="983.0" r="9.2" fill="#fff" stroke="#bf8f00" stroke-width="3.45"/>
<circle cx="495.8" cy="974.6" r="9.2" fill="#fff" stroke="#bf8f00" stroke-width="3.45"/>
<circle cx="503.8" cy="989.0" r="9.2" fill="#fff" stroke="#bf8f00" stroke-width="3.45"/>
<circle cx="520.0" cy="989.6" r="9.2" fill="#fff" stroke="#bf8f00" stroke-width="3.45"/>
<circle cx="551.8" cy="996.8" r="9.2" fill="#fff" stroke="#bf8f00" stroke-width="3.45"/>
<circle cx="423.4" cy="1001.0" r="9.2" fill="#fff" stroke="#bf8f00" stroke-width="3.45"/>
<circle cx="439.6" cy="1002.8" r="9.2" fill="#fff" stroke="#bf8f00" stroke-width="3.45"/>
<circle cx="455.6" cy="1005.2" r="9.2" fill="#fff" stroke="#bf8f00" stroke-width="3.45"/>
<circle cx="471.8" cy="999.8" r="9.2" fill="#fff" stroke="#bf8f00" stroke-width="3.45"/>
<circle cx="488.0" cy="997.4" r="9.2" fill="#fff" stroke="#bf8f00" stroke-width="3.45"/>
<circle cx="535.6" cy="1013.0" r="9.2" fill="#fff" stroke="#bf8f00" stroke-width="3.45"/>
<circle cx="471.8" cy="1018.4" r="9.2" fill="#fff" stroke="#bf8f00" stroke-width="3.45"/>
<circle cx="503.8" cy="1030.4" r="9.2" fill="#fff" stroke="#bf8f00" stroke-width="3.45"/>
<circle cx="488.0" cy="1039.4" r="9.2" fill="#fff" stroke="#bf8f00" stroke-width="3.45"/>
<circle cx="463.6" cy="1059.2" r="9.2" fill="#fff" stroke="#bf8f00" stroke-width="3.45"/>
<circle cx="479.6" cy="1061.6" r="9.2" fill="#fff" stroke="#bf8f00" stroke-width="3.45"/>
<circle cx="495.8" cy="1059.2" r="9.2" fill="#fff" stroke="#bf8f00" stroke-width="3.45"/>
<circle cx="520.0" cy="1083.2" r="9.2" fill="#fff" stroke="#bf8f00" stroke-width="3.45"/>
<circle cx="511.6" cy="1080.8" r="9.2" fill="#fff" stroke="#bf8f00" stroke-width="3.45"/>
<circle cx="488.0" cy="1091.0" r="9.2" fill="#fff" stroke="#bf8f00" stroke-width="3.45"/>
<circle cx="439.6" cy="1104.2" r="9.2" fill="#fff" stroke="#bf8f00" stroke-width="3.45"/>
<circle cx="455.6" cy="1105.4" r="9.2" fill="#fff" stroke="#bf8f00" stroke-width="3.45"/>
<circle cx="471.8" cy="1109.6" r="9.2" fill="#fff" stroke="#bf8f00" stroke-width="3.45"/>
<circle cx="503.8" cy="1109.6" r="9.2" fill="#fff" stroke="#bf8f00" stroke-width="3.45"/>
<circle cx="535.6" cy="1109.6" r="9.2" fill="#fff" stroke="#bf8f00" stroke-width="3.45"/>
<circle cx="952.0" cy="1104.0" r="9.2" fill="#fff" stroke="#0a00b0" stroke-width="3.45"/>
<circle cx="965.2" cy="1105.2" r="9.2" fill="#fff" stroke="#0a00b0" stroke-width="3.45"/>
<circle cx="976.0" cy="1105.8" r="9.2" fill="#fff" stroke="#0a00b0" stroke-width="3.45"/>
<circle cx="991.0" cy="1105.2" r="9.2" fill="#fff" stroke="#0a00b0" stroke-width="3.45"/>
<circle cx="1007.2" cy="1108.2" r="9.2" fill="#fff" stroke="#0a00b0" stroke-width="3.45"/>
<circle cx="965.2" cy="1113.0" r="9.2" fill="#fff" stroke="#0a00b0" stroke-width="3.45"/>
<circle cx="958.0" cy="1113.6" r="9.2" fill="#fff" stroke="#0a00b0" stroke-width="3.45"/>
<circle cx="982.0" cy="1113.6" r="9.2" fill="#fff" stroke="#0a00b0" stroke-width="3.45"/>
<circle cx="1009.0" cy="1113.6" r="9.2" fill="#fff" stroke="#0a00b0" stroke-width="3.45"/>
<circle cx="991.0" cy="1114.8" r="9.2" fill="#fff" stroke="#0a00b0" stroke-width="3.45"/>
<circle cx="1004.8" cy="1111.8" r="9.2" fill="#fff" stroke="#0a00b0" stroke-width="3.45"/>
<circle cx="955.3" cy="1109.4" r="9.2" fill="#fff" stroke="#0a00b0" stroke-width="3.45"/>
<circle cx="979.6" cy="1109.4" r="9.2" fill="#fff" stroke="#0a00b0" stroke-width="3.45"/>
<circle cx="994.9" cy="1110.0" r="9.2" fill="#fff" stroke="#0a00b0" stroke-width="3.45"/>
<circle cx="1096.9" cy="818.4" r="9.2" fill="#fff" stroke="#be0000" stroke-width="3.45"/>
<circle cx="1096.9" cy="864.3" r="9.2" fill="#fff" stroke="#be0000" stroke-width="3.45"/>
<circle cx="1096.9" cy="953.1" r="9.2" fill="#fff" stroke="#be0000" stroke-width="3.45"/>
<circle cx="1097.1" cy="1024.5" r="9.2" fill="#fff" stroke="#be0000" stroke-width="3.45"/>
<circle cx="1097.1" cy="1051.2" r="9.2" fill="#fff" stroke="#be0000" stroke-width="3.45"/>
<circle cx="1096.2" cy="1074.0" r="9.2" fill="#fff" stroke="#be0000" stroke-width="3.45"/>
<circle cx="1093.2" cy="1083.0" r="9.2" fill="#fff" stroke="#be0000" stroke-width="3.45"/>
<circle cx="1097.4" cy="1068.0" r="9.2" fill="#fff" stroke="#be0000" stroke-width="3.45"/>
<circle cx="1069.0" cy="1097.0" r="9.2" fill="#fff" stroke="#be0000" stroke-width="3.45"/>
<circle cx="1085.4" cy="1110.0" r="9.2" fill="#fff" stroke="#be0000" stroke-width="3.45"/>
<circle cx="1098.0" cy="1095.0" r="9.2" fill="#fff" stroke="#be0000" stroke-width="3.45"/>
<circle cx="1112.4" cy="1093.8" r="9.2" fill="#fff" stroke="#be0000" stroke-width="3.45"/>
<circle cx="1105.8" cy="1108.8" r="9.2" fill="#fff" stroke="#be0000" stroke-width="3.45"/>
<circle cx="1116.0" cy="1114.8" r="9.2" fill="#fff" stroke="#be0000" stroke-width="3.45"/>
<circle cx="1070.4" cy="1091.4" r="9.2" fill="#fff" stroke="#be0000" stroke-width="3.45"/>
<circle cx="1077.6" cy="1096.2" r="9.2" fill="#fff" stroke="#be0000" stroke-width="3.45"/>
<circle cx="1088.4" cy="1092.0" r="9.2" fill="#fff" stroke="#be0000" stroke-width="3.45"/>
<circle cx="1083.6" cy="1102.8" r="9.2" fill="#fff" stroke="#be0000" stroke-width="3.45"/>
<circle cx="1072.8" cy="1108.2" r="9.2" fill="#fff" stroke="#be0000" stroke-width="3.45"/>
<circle cx="1101.6" cy="1102.8" r="9.2" fill="#fff" stroke="#be0000" stroke-width="3.45"/>
<circle cx="1121.4" cy="1105.2" r="9.2" fill="#fff" stroke="#be0000" stroke-width="3.45"/>
<circle cx="1126.8" cy="1113.6" r="9.2" fill="#fff" stroke="#be0000" stroke-width="3.45"/>
<circle cx="1286.4" cy="734.2" r="9.2" fill="#fff" stroke="#0a00b0" stroke-width="3.45"/>
<circle cx="1295.9" cy="739.7" r="9.2" fill="#fff" stroke="#0a00b0" stroke-width="3.45"/>
<circle cx="1286.4" cy="784.8" r="9.2" fill="#fff" stroke="#0a00b0" stroke-width="3.45"/>
<circle cx="1295.9" cy="775.5" r="9.2" fill="#fff" stroke="#0a00b0" stroke-width="3.45"/>
<circle cx="1291.1" cy="823.7" r="9.2" fill="#fff" stroke="#0a00b0" stroke-width="3.45"/>
<circle cx="1277.4" cy="834.4" r="9.2" fill="#fff" stroke="#0a00b0" stroke-width="3.45"/>
<circle cx="1286.4" cy="832.9" r="9.2" fill="#fff" stroke="#0a00b0" stroke-width="3.45"/>
<circle cx="1313.9" cy="832.9" r="9.2" fill="#fff" stroke="#0a00b0" stroke-width="3.45"/>
<circle cx="1268.1" cy="852.6" r="9.2" fill="#fff" stroke="#0a00b0" stroke-width="3.45"/>
<circle cx="1295.9" cy="852.6" r="9.2" fill="#fff" stroke="#0a00b0" stroke-width="3.45"/>
<circle cx="1304.8" cy="850.1" r="9.2" fill="#fff" stroke="#0a00b0" stroke-width="3.45"/>
<circle cx="1295.9" cy="879.4" r="9.2" fill="#fff" stroke="#0a00b0" stroke-width="3.45"/>
<circle cx="1286.4" cy="880.4" r="9.2" fill="#fff" stroke="#0a00b0" stroke-width="3.45"/>
<circle cx="1276.9" cy="895.6" r="9.2" fill="#fff" stroke="#0a00b0" stroke-width="3.45"/>
<circle cx="1295.9" cy="898.1" r="9.2" fill="#fff" stroke="#0a00b0" stroke-width="3.45"/>
<circle cx="1304.8" cy="909.7" r="9.2" fill="#fff" stroke="#0a00b0" stroke-width="3.45"/>
<circle cx="1285.9" cy="911.5" r="9.2" fill="#fff" stroke="#0a00b0" stroke-width="3.45"/>
<circle cx="1263.9" cy="926.8" r="9.2" fill="#fff" stroke="#0a00b0" stroke-width="3.45"/>
<circle cx="1272.4" cy="932.2" r="9.2" fill="#fff" stroke="#0a00b0" stroke-width="3.45"/>
<circle cx="1282.8" cy="934.0" r="9.2" fill="#fff" stroke="#0a00b0" stroke-width="3.45"/>
<circle cx="1291.3" cy="939.9" r="9.2" fill="#fff" stroke="#0a00b0" stroke-width="3.45"/>
<circle cx="1319.2" cy="925.0" r="9.2" fill="#fff" stroke="#0a00b0" stroke-width="3.45"/>
<circle cx="1309.8" cy="935.8" r="9.2" fill="#fff" stroke="#0a00b0" stroke-width="3.45"/>
<circle cx="1276.9" cy="957.4" r="9.2" fill="#fff" stroke="#0a00b0" stroke-width="3.45"/>
<circle cx="1304.4" cy="956.5" r="9.2" fill="#fff" stroke="#0a00b0" stroke-width="3.45"/>
<circle cx="1286.8" cy="968.7" r="9.2" fill="#fff" stroke="#0a00b0" stroke-width="3.45"/>
<circle cx="1300.3" cy="975.4" r="9.2" fill="#fff" stroke="#0a00b0" stroke-width="3.45"/>
<circle cx="1309.3" cy="981.7" r="9.2" fill="#fff" stroke="#0a00b0" stroke-width="3.45"/>
<circle cx="1318.3" cy="983.5" r="9.2" fill="#fff" stroke="#0a00b0" stroke-width="3.45"/>
<circle cx="1291.3" cy="989.8" r="9.2" fill="#fff" stroke="#0a00b0" stroke-width="3.45"/>
<circle cx="1263.9" cy="990.7" r="9.2" fill="#fff" stroke="#0a00b0" stroke-width="3.45"/>
<circle cx="1272.4" cy="999.7" r="9.2" fill="#fff" stroke="#0a00b0" stroke-width="3.45"/>
<circle cx="1281.9" cy="1001.1" r="9.2" fill="#fff" stroke="#0a00b0" stroke-width="3.45"/>
<circle cx="1286.5" cy="1061.4" r="9.2" fill="#fff" stroke="#0a00b0" stroke-width="3.45"/>
<circle cx="1295.6" cy="1081.3" r="9.2" fill="#fff" stroke="#0a00b0" stroke-width="3.45"/>
<circle cx="1413.1" cy="704.2" r="9.2" fill="#fff" stroke="#be0000" stroke-width="3.45"/>
<circle cx="1404.0" cy="717.3" r="9.2" fill="#fff" stroke="#be0000" stroke-width="3.45"/>
<circle cx="1408.6" cy="804.4" r="9.2" fill="#fff" stroke="#be0000" stroke-width="3.45"/>
<circle cx="1390.4" cy="821.1" r="9.2" fill="#fff" stroke="#be0000" stroke-width="3.45"/>
<circle cx="1408.6" cy="825.1" r="9.2" fill="#fff" stroke="#be0000" stroke-width="3.45"/>
<circle cx="1399.5" cy="834.2" r="9.2" fill="#fff" stroke="#be0000" stroke-width="3.45"/>
<circle cx="1426.8" cy="829.2" r="9.2" fill="#fff" stroke="#be0000" stroke-width="3.45"/>
<circle cx="1417.7" cy="846.4" r="9.2" fill="#fff" stroke="#be0000" stroke-width="3.45"/>
<circle cx="1408.6" cy="871.4" r="9.2" fill="#fff" stroke="#be0000" stroke-width="3.45"/>
<circle cx="1399.5" cy="863.9" r="9.2" fill="#fff" stroke="#be0000" stroke-width="3.45"/>
<circle cx="1399.5" cy="910.4" r="9.2" fill="#fff" stroke="#be0000" stroke-width="3.45"/>
<circle cx="1417.7" cy="929.1" r="9.2" fill="#fff" stroke="#be0000" stroke-width="3.45"/>
<circle cx="1408.6" cy="921.6" r="9.2" fill="#fff" stroke="#be0000" stroke-width="3.45"/>
<circle cx="1417.7" cy="953.1" r="9.2" fill="#fff" stroke="#be0000" stroke-width="3.45"/>
<circle cx="1408.6" cy="959.0" r="9.2" fill="#fff" stroke="#be0000" stroke-width="3.45"/>
<circle cx="1399.5" cy="970.7" r="9.2" fill="#fff" stroke="#be0000" stroke-width="3.45"/>
<circle cx="1390.4" cy="976.1" r="9.2" fill="#fff" stroke="#be0000" stroke-width="3.45"/>
<circle cx="1426.8" cy="973.9" r="9.2" fill="#fff" stroke="#be0000" stroke-width="3.45"/>
<circle cx="1399.5" cy="995.3" r="9.2" fill="#fff" stroke="#be0000" stroke-width="3.45"/>
<circle cx="1417.7" cy="1000.6" r="9.2" fill="#fff" stroke="#be0000" stroke-width="3.45"/>
<circle cx="1408.6" cy="999.6" r="9.2" fill="#fff" stroke="#be0000" stroke-width="3.45"/>
<circle cx="1394.2" cy="1004.9" r="9.2" fill="#fff" stroke="#be0000" stroke-width="3.45"/>
<circle cx="1422.0" cy="1012.9" r="9.2" fill="#fff" stroke="#be0000" stroke-width="3.45"/>
<circle cx="1403.8" cy="1018.8" r="9.2" fill="#fff" stroke="#be0000" stroke-width="3.45"/>
<circle cx="1413.4" cy="1030.6" r="9.2" fill="#fff" stroke="#be0000" stroke-width="3.45"/>
<circle cx="1399.5" cy="1037.0" r="9.2" fill="#fff" stroke="#be0000" stroke-width="3.45"/>
<circle cx="1413.4" cy="1032.5" r="9.2" fill="#fff" stroke="#be0000" stroke-width="3.45"/>
<circle cx="1399.5" cy="1040.1" r="9.2" fill="#fff" stroke="#be0000" stroke-width="3.45"/>
<circle cx="1408.3" cy="1059.1" r="9.2" fill="#fff" stroke="#be0000" stroke-width="3.45"/>
<circle cx="1417.8" cy="1059.1" r="9.2" fill="#fff" stroke="#be0000" stroke-width="3.45"/>
<circle cx="1426.7" cy="1083.2" r="9.2" fill="#fff" stroke="#be0000" stroke-width="3.45"/>
<circle cx="1408.3" cy="1090.8" r="9.2" fill="#fff" stroke="#be0000" stroke-width="3.45"/>
<circle cx="1381.1" cy="1104.7" r="9.2" fill="#fff" stroke="#be0000" stroke-width="3.45"/>
<circle cx="1399.5" cy="1110.4" r="9.2" fill="#fff" stroke="#be0000" stroke-width="3.45"/>
<circle cx="1390.0" cy="1105.4" r="9.2" fill="#fff" stroke="#be0000" stroke-width="3.45"/>
<circle cx="1417.8" cy="1109.8" r="9.2" fill="#fff" stroke="#be0000" stroke-width="3.45"/>
<circle cx="1435.6" cy="1109.2" r="9.2" fill="#fff" stroke="#be0000" stroke-width="3.45"/>
<circle cx="285.5" cy="1301.5" r="9.2" fill="#fff" stroke="#6a22a2" stroke-width="3.45"/>
<circle cx="274.1" cy="1304.1" r="9.2" fill="#fff" stroke="#6a22a2" stroke-width="3.45"/>
<circle cx="308.3" cy="1303.4" r="9.2" fill="#fff" stroke="#6a22a2" stroke-width="3.45"/>
<circle cx="296.3" cy="1314.8" r="9.2" fill="#fff" stroke="#6a22a2" stroke-width="3.45"/>
<circle cx="285.5" cy="1365.5" r="9.2" fill="#fff" stroke="#6a22a2" stroke-width="3.45"/>
<circle cx="296.3" cy="1371.2" r="9.2" fill="#fff" stroke="#6a22a2" stroke-width="3.45"/>
<circle cx="285.5" cy="1386.4" r="9.2" fill="#fff" stroke="#6a22a2" stroke-width="3.45"/>
<circle cx="307.7" cy="1390.2" r="9.2" fill="#fff" stroke="#6a22a2" stroke-width="3.45"/>
<circle cx="274.1" cy="1401.6" r="9.2" fill="#fff" stroke="#6a22a2" stroke-width="3.45"/>
<circle cx="313.4" cy="1410.5" r="9.2" fill="#fff" stroke="#6a22a2" stroke-width="3.45"/>
<circle cx="302.0" cy="1404.1" r="9.2" fill="#fff" stroke="#6a22a2" stroke-width="3.45"/>
<circle cx="269.0" cy="1419.3" r="9.2" fill="#fff" stroke="#6a22a2" stroke-width="3.45"/>
<circle cx="279.8" cy="1426.9" r="9.2" fill="#fff" stroke="#6a22a2" stroke-width="3.45"/>
<circle cx="258.3" cy="1423.1" r="9.2" fill="#fff" stroke="#6a22a2" stroke-width="3.45"/>
<circle cx="291.2" cy="1428.8" r="9.2" fill="#fff" stroke="#6a22a2" stroke-width="3.45"/>
<circle cx="324.1" cy="1428.8" r="9.2" fill="#fff" stroke="#6a22a2" stroke-width="3.45"/>
<circle cx="296.3" cy="1442.8" r="9.2" fill="#fff" stroke="#6a22a2" stroke-width="3.45"/>
<circle cx="241.2" cy="1444.7" r="9.2" fill="#fff" stroke="#6a22a2" stroke-width="3.45"/>
<circle cx="330.5" cy="1454.8" r="9.2" fill="#fff" stroke="#6a22a2" stroke-width="3.45"/>
<circle cx="319.1" cy="1448.5" r="9.2" fill="#fff" stroke="#6a22a2" stroke-width="3.45"/>
<circle cx="352.0" cy="1447.2" r="9.2" fill="#fff" stroke="#6a22a2" stroke-width="3.45"/>
<circle cx="219.0" cy="1455.4" r="9.2" fill="#fff" stroke="#6a22a2" stroke-width="3.45"/>
<circle cx="274.1" cy="1456.1" r="9.2" fill="#fff" stroke="#6a22a2" stroke-width="3.45"/>
<circle cx="285.5" cy="1459.9" r="9.2" fill="#fff" stroke="#6a22a2" stroke-width="3.45"/>
<circle cx="307.7" cy="1459.9" r="9.2" fill="#fff" stroke="#6a22a2" stroke-width="3.45"/>
<circle cx="251.9" cy="1462.4" r="9.2" fill="#fff" stroke="#6a22a2" stroke-width="3.45"/>
<circle cx="230.4" cy="1464.9" r="9.2" fill="#fff" stroke="#6a22a2" stroke-width="3.45"/>
<circle cx="340.6" cy="1461.1" r="9.2" fill="#fff" stroke="#6a22a2" stroke-width="3.45"/>
<circle cx="363.4" cy="1462.4" r="9.2" fill="#fff" stroke="#6a22a2" stroke-width="3.45"/>
<circle cx="324.1" cy="1472.8" r="9.2" fill="#fff" stroke="#6a22a2" stroke-width="3.45"/>
<circle cx="335.5" cy="1484.2" r="9.2" fill="#fff" stroke="#6a22a2" stroke-width="3.45"/>
<circle cx="246.9" cy="1488.0" r="9.2" fill="#fff" stroke="#6a22a2" stroke-width="3.45"/>
<circle cx="269.0" cy="1477.2" r="9.2" fill="#fff" stroke="#6a22a2" stroke-width="3.45"/>
<circle cx="279.8" cy="1480.4" r="9.2" fill="#fff" stroke="#6a22a2" stroke-width="3.45"/>
<circle cx="291.2" cy="1495.6" r="9.2" fill="#fff" stroke="#6a22a2" stroke-width="3.45"/>
<circle cx="274.7" cy="1505.7" r="9.2" fill="#fff" stroke="#6a22a2" stroke-width="3.45"/>
<circle cx="263.3" cy="1498.1" r="9.2" fill="#fff" stroke="#6a22a2" stroke-width="3.45"/>
<circle cx="307.7" cy="1503.2" r="9.2" fill="#fff" stroke="#6a22a2" stroke-width="3.45"/>
<circle cx="302.6" cy="1498.1" r="9.2" fill="#fff" stroke="#6a22a2" stroke-width="3.45"/>
<circle cx="314.0" cy="1490.5" r="9.2" fill="#fff" stroke="#6a22a2" stroke-width="3.45"/>
<circle cx="341.2" cy="1503.8" r="9.2" fill="#fff" stroke="#6a22a2" stroke-width="3.45"/>
<circle cx="330.5" cy="1512.7" r="9.2" fill="#fff" stroke="#6a22a2" stroke-width="3.45"/>
<circle cx="302.6" cy="1527.3" r="9.2" fill="#fff" stroke="#6a22a2" stroke-width="3.45"/>
<circle cx="319.1" cy="1520.9" r="9.2" fill="#fff" stroke="#6a22a2" stroke-width="3.45"/>
<circle cx="313.4" cy="1527.9" r="9.2" fill="#fff" stroke="#6a22a2" stroke-width="3.45"/>
<circle cx="296.3" cy="1518.4" r="9.2" fill="#fff" stroke="#6a22a2" stroke-width="3.45"/>
<circle cx="291.2" cy="1531.1" r="9.2" fill="#fff" stroke="#6a22a2" stroke-width="3.45"/>
<circle cx="285.5" cy="1522.8" r="9.2" fill="#fff" stroke="#6a22a2" stroke-width="3.45"/>
<circle cx="279.8" cy="1541.2" r="9.2" fill="#fff" stroke="#6a22a2" stroke-width="3.45"/>
<circle cx="241.2" cy="1520.9" r="9.2" fill="#fff" stroke="#6a22a2" stroke-width="3.45"/>
<circle cx="251.9" cy="1520.9" r="9.2" fill="#fff" stroke="#6a22a2" stroke-width="3.45"/>
<circle cx="246.9" cy="1545.0" r="9.2" fill="#fff" stroke="#6a22a2" stroke-width="3.45"/>
<circle cx="235.5" cy="1543.7" r="9.2" fill="#fff" stroke="#6a22a2" stroke-width="3.45"/>
<circle cx="257.6" cy="1546.9" r="9.2" fill="#fff" stroke="#6a22a2" stroke-width="3.45"/>
<circle cx="269.0" cy="1550.1" r="9.2" fill="#fff" stroke="#6a22a2" stroke-width="3.45"/>
<circle cx="324.1" cy="1546.9" r="9.2" fill="#fff" stroke="#6a22a2" stroke-width="3.45"/>
<circle cx="335.5" cy="1539.9" r="9.2" fill="#fff" stroke="#6a22a2" stroke-width="3.45"/>
<circle cx="346.9" cy="1551.3" r="9.2" fill="#fff" stroke="#6a22a2" stroke-width="3.45"/>
<circle cx="263.3" cy="1567.2" r="9.2" fill="#fff" stroke="#6a22a2" stroke-width="3.45"/>
<circle cx="230.4" cy="1583.0" r="9.2" fill="#fff" stroke="#6a22a2" stroke-width="3.45"/>
<circle cx="252.6" cy="1584.3" r="9.2" fill="#fff" stroke="#6a22a2" stroke-width="3.45"/>
<circle cx="241.2" cy="1583.0" r="9.2" fill="#fff" stroke="#6a22a2" stroke-width="3.45"/>
<circle cx="274.7" cy="1581.7" r="9.2" fill="#fff" stroke="#6a22a2" stroke-width="3.45"/>
<circle cx="296.3" cy="1575.4" r="9.2" fill="#fff" stroke="#6a22a2" stroke-width="3.45"/>
<circle cx="285.5" cy="1574.1" r="9.2" fill="#fff" stroke="#6a22a2" stroke-width="3.45"/>
<circle cx="319.1" cy="1576.7" r="9.2" fill="#fff" stroke="#6a22a2" stroke-width="3.45"/>
<circle cx="307.7" cy="1569.7" r="9.2" fill="#fff" stroke="#6a22a2" stroke-width="3.45"/>
<circle cx="330.5" cy="1586.2" r="9.2" fill="#fff" stroke="#6a22a2" stroke-width="3.45"/>
<circle cx="341.2" cy="1575.4" r="9.2" fill="#fff" stroke="#6a22a2" stroke-width="3.45"/>
<circle cx="352.0" cy="1591.2" r="9.2" fill="#fff" stroke="#6a22a2" stroke-width="3.45"/>
<circle cx="497.4" cy="1396.5" r="9.2" fill="#fff" stroke="#bf8f00" stroke-width="3.45"/>
<circle cx="501.8" cy="1461.1" r="9.2" fill="#fff" stroke="#bf8f00" stroke-width="3.45"/>
<circle cx="493.0" cy="1448.4" r="9.2" fill="#fff" stroke="#bf8f00" stroke-width="3.45"/>
<circle cx="511.3" cy="1448.4" r="9.2" fill="#fff" stroke="#bf8f00" stroke-width="3.45"/>
<circle cx="484.1" cy="1469.3" r="9.2" fill="#fff" stroke="#bf8f00" stroke-width="3.45"/>
<circle cx="491.7" cy="1501.6" r="9.2" fill="#fff" stroke="#bf8f00" stroke-width="3.45"/>
<circle cx="497.4" cy="1495.9" r="9.2" fill="#fff" stroke="#bf8f00" stroke-width="3.45"/>
<circle cx="511.3" cy="1501.6" r="9.2" fill="#fff" stroke="#bf8f00" stroke-width="3.45"/>
<circle cx="484.1" cy="1526.9" r="9.2" fill="#fff" stroke="#bf8f00" stroke-width="3.45"/>
<circle cx="503.1" cy="1526.3" r="9.2" fill="#fff" stroke="#bf8f00" stroke-width="3.45"/>
<circle cx="487.3" cy="1542.1" r="9.2" fill="#fff" stroke="#bf8f00" stroke-width="3.45"/>
<circle cx="516.4" cy="1537.7" r="9.2" fill="#fff" stroke="#bf8f00" stroke-width="3.45"/>
<circle cx="506.3" cy="1535.8" r="9.2" fill="#fff" stroke="#bf8f00" stroke-width="3.45"/>
<circle cx="470.2" cy="1541.5" r="9.2" fill="#fff" stroke="#bf8f00" stroke-width="3.45"/>
<circle cx="479.0" cy="1540.2" r="9.2" fill="#fff" stroke="#bf8f00" stroke-width="3.45"/>
<circle cx="524.0" cy="1553.5" r="9.2" fill="#fff" stroke="#bf8f00" stroke-width="3.45"/>
<circle cx="498.7" cy="1557.3" r="9.2" fill="#fff" stroke="#bf8f00" stroke-width="3.45"/>
<circle cx="465.7" cy="1563.0" r="9.2" fill="#fff" stroke="#bf8f00" stroke-width="3.45"/>
<circle cx="493.0" cy="1561.1" r="9.2" fill="#fff" stroke="#bf8f00" stroke-width="3.45"/>
<circle cx="537.9" cy="1568.7" r="9.2" fill="#fff" stroke="#bf8f00" stroke-width="3.45"/>
<circle cx="511.3" cy="1570.0" r="9.2" fill="#fff" stroke="#bf8f00" stroke-width="3.45"/>
<circle cx="521.5" cy="1570.0" r="9.2" fill="#fff" stroke="#bf8f00" stroke-width="3.45"/>
<circle cx="454.3" cy="1570.0" r="9.2" fill="#fff" stroke="#bf8f00" stroke-width="3.45"/>
<circle cx="483.5" cy="1584.2" r="9.2" fill="#fff" stroke="#bf8f00" stroke-width="3.45"/>
<circle cx="520.2" cy="1593.1" r="9.2" fill="#fff" stroke="#bf8f00" stroke-width="3.45"/>
<circle cx="482.2" cy="1595.6" r="9.2" fill="#fff" stroke="#bf8f00" stroke-width="3.45"/>
<circle cx="456.2" cy="1577.2" r="9.2" fill="#fff" stroke="#bf8f00" stroke-width="3.45"/>
<circle cx="475.2" cy="1578.5" r="9.2" fill="#fff" stroke="#bf8f00" stroke-width="3.45"/>
<circle cx="501.8" cy="1578.5" r="9.2" fill="#fff" stroke="#bf8f00" stroke-width="3.45"/>
<circle cx="519.6" cy="1574.7" r="9.2" fill="#fff" stroke="#bf8f00" stroke-width="3.45"/>
<circle cx="529.1" cy="1585.5" r="9.2" fill="#fff" stroke="#bf8f00" stroke-width="3.45"/>
<circle cx="501.2" cy="1594.3" r="9.2" fill="#fff" stroke="#bf8f00" stroke-width="3.45"/>
<circle cx="465.7" cy="1620.9" r="9.2" fill="#fff" stroke="#bf8f00" stroke-width="3.45"/>
<circle cx="498.7" cy="1629.8" r="9.2" fill="#fff" stroke="#bf8f00" stroke-width="3.45"/>
<circle cx="541.7" cy="1626.0" r="9.2" fill="#fff" stroke="#bf8f00" stroke-width="3.45"/>
<circle cx="560.7" cy="1638.7" r="9.2" fill="#fff" stroke="#bf8f00" stroke-width="3.45"/>
<circle cx="474.0" cy="1617.8" r="9.2" fill="#fff" stroke="#bf8f00" stroke-width="3.45"/>
<circle cx="493.0" cy="1618.4" r="9.2" fill="#fff" stroke="#bf8f00" stroke-width="3.45"/>
<circle cx="511.3" cy="1617.1" r="9.2" fill="#fff" stroke="#bf8f00" stroke-width="3.45"/>
<circle cx="425.2" cy="1623.5" r="9.2" fill="#fff" stroke="#bf8f00" stroke-width="3.45"/>
<circle cx="434.1" cy="1626.0" r="9.2" fill="#fff" stroke="#bf8f00" stroke-width="3.45"/>
<circle cx="460.0" cy="1633.0" r="9.2" fill="#fff" stroke="#bf8f00" stroke-width="3.45"/>
<circle cx="479.0" cy="1638.7" r="9.2" fill="#fff" stroke="#bf8f00" stroke-width="3.45"/>
<circle cx="515.8" cy="1634.9" r="9.2" fill="#fff" stroke="#bf8f00" stroke-width="3.45"/>
<circle cx="533.5" cy="1638.7" r="9.2" fill="#fff" stroke="#bf8f00" stroke-width="3.45"/>
<circle cx="551.2" cy="1628.5" r="9.2" fill="#fff" stroke="#bf8f00" stroke-width="3.45"/>
<circle cx="569.0" cy="1623.5" r="9.2" fill="#fff" stroke="#bf8f00" stroke-width="3.45"/>
<circle cx="497.4" cy="1656.4" r="9.2" fill="#fff" stroke="#bf8f00" stroke-width="3.45"/>
<circle cx="443.6" cy="1646.3" r="9.2" fill="#fff" stroke="#bf8f00" stroke-width="3.45"/>
<circle cx="489.2" cy="1647.5" r="9.2" fill="#fff" stroke="#bf8f00" stroke-width="3.45"/>
<circle cx="506.3" cy="1648.8" r="9.2" fill="#fff" stroke="#bf8f00" stroke-width="3.45"/>
<circle cx="515.1" cy="1653.9" r="9.2" fill="#fff" stroke="#bf8f00" stroke-width="3.45"/>
<circle cx="442.3" cy="1660.2" r="9.2" fill="#fff" stroke="#bf8f00" stroke-width="3.45"/>
<circle cx="460.7" cy="1661.5" r="9.2" fill="#fff" stroke="#bf8f00" stroke-width="3.45"/>
<circle cx="479.0" cy="1657.7" r="9.2" fill="#fff" stroke="#bf8f00" stroke-width="3.45"/>
<circle cx="534.8" cy="1658.9" r="9.2" fill="#fff" stroke="#bf8f00" stroke-width="3.45"/>
<circle cx="524.0" cy="1662.7" r="9.2" fill="#fff" stroke="#bf8f00" stroke-width="3.45"/>
<circle cx="470.2" cy="1665.9" r="9.2" fill="#fff" stroke="#bf8f00" stroke-width="3.45"/>
<circle cx="488.5" cy="1671.6" r="9.2" fill="#fff" stroke="#bf8f00" stroke-width="3.45"/>
<circle cx="551.9" cy="1669.7" r="9.2" fill="#fff" stroke="#bf8f00" stroke-width="3.45"/>
<circle cx="542.4" cy="1675.4" r="9.2" fill="#fff" stroke="#bf8f00" stroke-width="3.45"/>
<circle cx="502.5" cy="1677.9" r="9.2" fill="#fff" stroke="#bf8f00" stroke-width="3.45"/>
<circle cx="511.3" cy="1679.2" r="9.2" fill="#fff" stroke="#bf8f00" stroke-width="3.45"/>
<circle cx="529.1" cy="1683.0" r="9.2" fill="#fff" stroke="#bf8f00" stroke-width="3.45"/>
<circle cx="467.0" cy="1686.2" r="9.2" fill="#fff" stroke="#bf8f00" stroke-width="3.45"/>
<circle cx="474.6" cy="1688.1" r="9.2" fill="#fff" stroke="#bf8f00" stroke-width="3.45"/>
<circle cx="456.2" cy="1683.0" r="9.2" fill="#fff" stroke="#bf8f00" stroke-width="3.45"/>
<circle cx="483.5" cy="1681.7" r="9.2" fill="#fff" stroke="#bf8f00" stroke-width="3.45"/>
<circle cx="520.2" cy="1697.6" r="9.2" fill="#fff" stroke="#bf8f00" stroke-width="3.45"/>
<circle cx="537.9" cy="1703.9" r="9.2" fill="#fff" stroke="#bf8f00" stroke-width="3.45"/>
<circle cx="992.6" cy="1300.2" r="9.2" fill="#fff" stroke="#0a00b0" stroke-width="3.45"/>
<circle cx="969.4" cy="1298.2" r="9.2" fill="#fff" stroke="#0a00b0" stroke-width="3.45"/>
<circle cx="976.9" cy="1311.4" r="9.2" fill="#fff" stroke="#0a00b0" stroke-width="3.45"/>
<circle cx="985.0" cy="1300.7" r="9.2" fill="#fff" stroke="#0a00b0" stroke-width="3.45"/>
<circle cx="972.9" cy="1367.6" r="9.2" fill="#fff" stroke="#0a00b0" stroke-width="3.45"/>
<circle cx="981.0" cy="1384.3" r="9.2" fill="#fff" stroke="#0a00b0" stroke-width="3.45"/>
<circle cx="989.1" cy="1387.3" r="9.2" fill="#fff" stroke="#0a00b0" stroke-width="3.45"/>
<circle cx="976.9" cy="1401.0" r="9.2" fill="#fff" stroke="#0a00b0" stroke-width="3.45"/>
<circle cx="993.1" cy="1415.6" r="9.2" fill="#fff" stroke="#0a00b0" stroke-width="3.45"/>
<circle cx="985.0" cy="1420.7" r="9.2" fill="#fff" stroke="#0a00b0" stroke-width="3.45"/>
<circle cx="968.8" cy="1425.7" r="9.2" fill="#fff" stroke="#0a00b0" stroke-width="3.45"/>
<circle cx="968.3" cy="1446.0" r="9.2" fill="#fff" stroke="#0a00b0" stroke-width="3.45"/>
<circle cx="1006.8" cy="1454.1" r="9.2" fill="#fff" stroke="#0a00b0" stroke-width="3.45"/>
<circle cx="985.0" cy="1460.2" r="9.2" fill="#fff" stroke="#0a00b0" stroke-width="3.45"/>
<circle cx="968.1" cy="1471.5" r="9.2" fill="#fff" stroke="#0a00b0" stroke-width="3.45"/>
<circle cx="992.9" cy="1490.6" r="9.2" fill="#fff" stroke="#0a00b0" stroke-width="3.45"/>
<circle cx="985.0" cy="1494.0" r="9.2" fill="#fff" stroke="#0a00b0" stroke-width="3.45"/>
<circle cx="953.7" cy="1440.9" r="9.2" fill="#fff" stroke="#0a00b0" stroke-width="3.45"/>
<circle cx="976.9" cy="1439.4" r="9.2" fill="#fff" stroke="#0a00b0" stroke-width="3.45"/>
<circle cx="992.6" cy="1452.1" r="9.2" fill="#fff" stroke="#0a00b0" stroke-width="3.45"/>
<circle cx="1009.8" cy="1458.1" r="9.2" fill="#fff" stroke="#0a00b0" stroke-width="3.45"/>
<circle cx="961.3" cy="1458.1" r="9.2" fill="#fff" stroke="#0a00b0" stroke-width="3.45"/>
<circle cx="977.1" cy="1488.4" r="9.2" fill="#fff" stroke="#0a00b0" stroke-width="3.45"/>
<circle cx="961.4" cy="1495.1" r="9.2" fill="#fff" stroke="#0a00b0" stroke-width="3.45"/>
<circle cx="1000.7" cy="1502.4" r="9.2" fill="#fff" stroke="#0a00b0" stroke-width="3.45"/>
<circle cx="977.1" cy="1517.6" r="9.2" fill="#fff" stroke="#0a00b0" stroke-width="3.45"/>
<circle cx="992.9" cy="1518.7" r="9.2" fill="#fff" stroke="#0a00b0" stroke-width="3.45"/>
<circle cx="989.5" cy="1526.6" r="9.2" fill="#fff" stroke="#0a00b0" stroke-width="3.45"/>
<circle cx="969.2" cy="1518.2" r="9.2" fill="#fff" stroke="#0a00b0" stroke-width="3.45"/>
<circle cx="985.0" cy="1521.0" r="9.2" fill="#fff" stroke="#0a00b0" stroke-width="3.45"/>
<circle cx="997.4" cy="1530.0" r="9.2" fill="#fff" stroke="#0a00b0" stroke-width="3.45"/>
<circle cx="964.7" cy="1541.2" r="9.2" fill="#fff" stroke="#0a00b0" stroke-width="3.45"/>
<circle cx="981.6" cy="1539.0" r="9.2" fill="#fff" stroke="#0a00b0" stroke-width="3.45"/>
<circle cx="973.2" cy="1549.1" r="9.2" fill="#fff" stroke="#0a00b0" stroke-width="3.45"/>
<circle cx="981.1" cy="1578.4" r="9.2" fill="#fff" stroke="#0a00b0" stroke-width="3.45"/>
<circle cx="988.9" cy="1584.0" r="9.2" fill="#fff" stroke="#0a00b0" stroke-width="3.45"/>
<circle cx="973.2" cy="1571.6" r="9.2" fill="#fff" stroke="#0a00b0" stroke-width="3.45"/>
<circle cx="1098.6" cy="1362.5" r="9.2" fill="#fff" stroke="#be0000" stroke-width="3.45"/>
<circle cx="1091.4" cy="1407.5" r="9.2" fill="#fff" stroke="#be0000" stroke-width="3.45"/>
<circle cx="1095.0" cy="1399.4" r="9.2" fill="#fff" stroke="#be0000" stroke-width="3.45"/>
<circle cx="1102.2" cy="1390.4" r="9.2" fill="#fff" stroke="#be0000" stroke-width="3.45"/>
<circle cx="1097.7" cy="1423.7" r="9.2" fill="#fff" stroke="#be0000" stroke-width="3.45"/>
<circle cx="1105.4" cy="1426.0" r="9.2" fill="#fff" stroke="#be0000" stroke-width="3.45"/>
<circle cx="1095.0" cy="1444.4" r="9.2" fill="#fff" stroke="#be0000" stroke-width="3.45"/>
<circle cx="1108.5" cy="1453.4" r="9.2" fill="#fff" stroke="#be0000" stroke-width="3.45"/>
<circle cx="1102.2" cy="1453.9" r="9.2" fill="#fff" stroke="#be0000" stroke-width="3.45"/>
<circle cx="1087.8" cy="1457.0" r="9.2" fill="#fff" stroke="#be0000" stroke-width="3.45"/>
<circle cx="1077.9" cy="1464.2" r="9.2" fill="#fff" stroke="#be0000" stroke-width="3.45"/>
<circle cx="1100.4" cy="1465.1" r="9.2" fill="#fff" stroke="#be0000" stroke-width="3.45"/>
<circle cx="1091.4" cy="1476.8" r="9.2" fill="#fff" stroke="#be0000" stroke-width="3.45"/>
<circle cx="1113.0" cy="1477.7" r="9.2" fill="#fff" stroke="#be0000" stroke-width="3.45"/>
<circle cx="1120.2" cy="1481.3" r="9.2" fill="#fff" stroke="#be0000" stroke-width="3.45"/>
<circle cx="1083.3" cy="1485.8" r="9.2" fill="#fff" stroke="#be0000" stroke-width="3.45"/>
<circle cx="1105.8" cy="1485.8" r="9.2" fill="#fff" stroke="#be0000" stroke-width="3.45"/>
<circle cx="1109.4" cy="1497.5" r="9.2" fill="#fff" stroke="#be0000" stroke-width="3.45"/>
<circle cx="1088.7" cy="1498.4" r="9.2" fill="#fff" stroke="#be0000" stroke-width="3.45"/>
<circle cx="1087.4" cy="1501.8" r="9.2" fill="#fff" stroke="#be0000" stroke-width="3.45"/>
<circle cx="1108.7" cy="1501.3" r="9.2" fill="#fff" stroke="#be0000" stroke-width="3.45"/>
<circle cx="1104.7" cy="1518.5" r="9.2" fill="#fff" stroke="#be0000" stroke-width="3.45"/>
<circle cx="1094.5" cy="1511.4" r="9.2" fill="#fff" stroke="#be0000" stroke-width="3.45"/>
<circle cx="1101.6" cy="1524.5" r="9.2" fill="#fff" stroke="#be0000" stroke-width="3.45"/>
<circle cx="1080.9" cy="1537.7" r="9.2" fill="#fff" stroke="#be0000" stroke-width="3.45"/>
<circle cx="1088.5" cy="1544.8" r="9.2" fill="#fff" stroke="#be0000" stroke-width="3.45"/>
<circle cx="1115.8" cy="1541.7" r="9.2" fill="#fff" stroke="#be0000" stroke-width="3.45"/>
<circle cx="1108.7" cy="1544.8" r="9.2" fill="#fff" stroke="#be0000" stroke-width="3.45"/>
<circle cx="1095.0" cy="1548.8" r="9.2" fill="#fff" stroke="#be0000" stroke-width="3.45"/>
<circle cx="1097.6" cy="1565.0" r="9.2" fill="#fff" stroke="#be0000" stroke-width="3.45"/>
<circle cx="1084.9" cy="1583.2" r="9.2" fill="#fff" stroke="#be0000" stroke-width="3.45"/>
<circle cx="1091.5" cy="1574.1" r="9.2" fill="#fff" stroke="#be0000" stroke-width="3.45"/>
<circle cx="1105.2" cy="1567.0" r="9.2" fill="#fff" stroke="#be0000" stroke-width="3.45"/>
<circle cx="1118.8" cy="1572.1" r="9.2" fill="#fff" stroke="#be0000" stroke-width="3.45"/>
<circle cx="1070.7" cy="1574.1" r="9.2" fill="#fff" stroke="#be0000" stroke-width="3.45"/>
<circle cx="1077.8" cy="1581.2" r="9.2" fill="#fff" stroke="#be0000" stroke-width="3.45"/>
<circle cx="1111.7" cy="1583.2" r="9.2" fill="#fff" stroke="#be0000" stroke-width="3.45"/>
<circle cx="1125.9" cy="1589.3" r="9.2" fill="#fff" stroke="#be0000" stroke-width="3.45"/>
<circle cx="1296.8" cy="1445.8" r="9.2" fill="#fff" stroke="#0a00b0" stroke-width="3.45"/>
<circle cx="1289.2" cy="1445.8" r="9.2" fill="#fff" stroke="#0a00b0" stroke-width="3.45"/>
<circle cx="1293.0" cy="1498.8" r="9.2" fill="#fff" stroke="#0a00b0" stroke-width="3.45"/>
<circle cx="1300.7" cy="1493.6" r="9.2" fill="#fff" stroke="#0a00b0" stroke-width="3.45"/>
<circle cx="1284.9" cy="1498.8" r="9.2" fill="#fff" stroke="#0a00b0" stroke-width="3.45"/>
<circle cx="1293.0" cy="1554.3" r="9.2" fill="#fff" stroke="#0a00b0" stroke-width="3.45"/>
<circle cx="1308.3" cy="1568.1" r="9.2" fill="#fff" stroke="#0a00b0" stroke-width="3.45"/>
<circle cx="1302.6" cy="1573.4" r="9.2" fill="#fff" stroke="#0a00b0" stroke-width="3.45"/>
<circle cx="1285.4" cy="1561.0" r="9.2" fill="#fff" stroke="#0a00b0" stroke-width="3.45"/>
<circle cx="1316.4" cy="1559.5" r="9.2" fill="#fff" stroke="#0a00b0" stroke-width="3.45"/>
<circle cx="1284.4" cy="1594.4" r="9.2" fill="#fff" stroke="#0a00b0" stroke-width="3.45"/>
<circle cx="1269.1" cy="1583.0" r="9.2" fill="#fff" stroke="#0a00b0" stroke-width="3.45"/>
<circle cx="1277.2" cy="1576.3" r="9.2" fill="#fff" stroke="#0a00b0" stroke-width="3.45"/>
<circle cx="1293.5" cy="1583.0" r="9.2" fill="#fff" stroke="#0a00b0" stroke-width="3.45"/>
<circle cx="1305.1" cy="1580.0" r="9.2" fill="#fff" stroke="#0a00b0" stroke-width="3.45"/>
<circle cx="1296.5" cy="1615.4" r="9.2" fill="#fff" stroke="#0a00b0" stroke-width="3.45"/>
<circle cx="1300.4" cy="1614.6" r="9.2" fill="#fff" stroke="#0a00b0" stroke-width="3.45"/>
<circle cx="1297.2" cy="1623.3" r="9.2" fill="#fff" stroke="#0a00b0" stroke-width="3.45"/>
<circle cx="1320.9" cy="1627.2" r="9.2" fill="#fff" stroke="#0a00b0" stroke-width="3.45"/>
<circle cx="1281.5" cy="1641.4" r="9.2" fill="#fff" stroke="#0a00b0" stroke-width="3.45"/>
<circle cx="1312.2" cy="1644.6" r="9.2" fill="#fff" stroke="#0a00b0" stroke-width="3.45"/>
<circle cx="1265.7" cy="1631.2" r="9.2" fill="#fff" stroke="#0a00b0" stroke-width="3.45"/>
<circle cx="1288.6" cy="1645.4" r="9.2" fill="#fff" stroke="#0a00b0" stroke-width="3.45"/>
<circle cx="1308.3" cy="1647.7" r="9.2" fill="#fff" stroke="#0a00b0" stroke-width="3.45"/>
<circle cx="1294.1" cy="1655.6" r="9.2" fill="#fff" stroke="#0a00b0" stroke-width="3.45"/>
<circle cx="1269.7" cy="1652.4" r="9.2" fill="#fff" stroke="#0a00b0" stroke-width="3.45"/>
<circle cx="1301.2" cy="1670.6" r="9.2" fill="#fff" stroke="#0a00b0" stroke-width="3.45"/>
<circle cx="1280.7" cy="1677.6" r="9.2" fill="#fff" stroke="#0a00b0" stroke-width="3.45"/>
<circle cx="1284.6" cy="1664.3" r="9.2" fill="#fff" stroke="#0a00b0" stroke-width="3.45"/>
<circle cx="1316.9" cy="1673.7" r="9.2" fill="#fff" stroke="#0a00b0" stroke-width="3.45"/>
<circle cx="1272.8" cy="1676.1" r="9.2" fill="#fff" stroke="#0a00b0" stroke-width="3.45"/>
<circle cx="1289.4" cy="1680.8" r="9.2" fill="#fff" stroke="#0a00b0" stroke-width="3.45"/>
<circle cx="1305.1" cy="1681.6" r="9.2" fill="#fff" stroke="#0a00b0" stroke-width="3.45"/>
<circle cx="1313.0" cy="1702.8" r="9.2" fill="#fff" stroke="#0a00b0" stroke-width="3.45"/>
<circle cx="1410.6" cy="1393.5" r="9.2" fill="#fff" stroke="#be0000" stroke-width="3.45"/>
<circle cx="1407.2" cy="1467.7" r="9.2" fill="#fff" stroke="#be0000" stroke-width="3.45"/>
<circle cx="1414.6" cy="1457.6" r="9.2" fill="#fff" stroke="#be0000" stroke-width="3.45"/>
<circle cx="1397.1" cy="1536.4" r="9.2" fill="#fff" stroke="#be0000" stroke-width="3.45"/>
<circle cx="1417.9" cy="1539.7" r="9.2" fill="#fff" stroke="#be0000" stroke-width="3.45"/>
<circle cx="1410.6" cy="1524.0" r="9.2" fill="#fff" stroke="#be0000" stroke-width="3.45"/>
<circle cx="1389.8" cy="1539.7" r="9.2" fill="#fff" stroke="#be0000" stroke-width="3.45"/>
<circle cx="1432.0" cy="1533.0" r="9.2" fill="#fff" stroke="#be0000" stroke-width="3.45"/>
<circle cx="1424.7" cy="1538.6" r="9.2" fill="#fff" stroke="#be0000" stroke-width="3.45"/>
<circle cx="1403.9" cy="1552.1" r="9.2" fill="#fff" stroke="#be0000" stroke-width="3.45"/>
<circle cx="1397.1" cy="1571.2" r="9.2" fill="#fff" stroke="#be0000" stroke-width="3.45"/>
<circle cx="1403.9" cy="1572.3" r="9.2" fill="#fff" stroke="#be0000" stroke-width="3.45"/>
<circle cx="1419.1" cy="1575.7" r="9.2" fill="#fff" stroke="#be0000" stroke-width="3.45"/>
<circle cx="1410.4" cy="1591.5" r="9.2" fill="#fff" stroke="#be0000" stroke-width="3.45"/>
<circle cx="1425.7" cy="1591.5" r="9.2" fill="#fff" stroke="#be0000" stroke-width="3.45"/>
<circle cx="1389.7" cy="1629.3" r="9.2" fill="#fff" stroke="#be0000" stroke-width="3.45"/>
<circle cx="1404.1" cy="1634.7" r="9.2" fill="#fff" stroke="#be0000" stroke-width="3.45"/>
<circle cx="1410.9" cy="1614.9" r="9.2" fill="#fff" stroke="#be0000" stroke-width="3.45"/>
<circle cx="1382.5" cy="1621.2" r="9.2" fill="#fff" stroke="#be0000" stroke-width="3.45"/>
<circle cx="1432.0" cy="1619.4" r="9.2" fill="#fff" stroke="#be0000" stroke-width="3.45"/>
<circle cx="1396.9" cy="1628.4" r="9.2" fill="#fff" stroke="#be0000" stroke-width="3.45"/>
<circle cx="1424.8" cy="1633.8" r="9.2" fill="#fff" stroke="#be0000" stroke-width="3.45"/>
<circle cx="1439.2" cy="1637.4" r="9.2" fill="#fff" stroke="#be0000" stroke-width="3.45"/>
<circle cx="1403.2" cy="1652.7" r="9.2" fill="#fff" stroke="#be0000" stroke-width="3.45"/>
<circle cx="1397.8" cy="1659.0" r="9.2" fill="#fff" stroke="#be0000" stroke-width="3.45"/>
<circle cx="1432.0" cy="1659.9" r="9.2" fill="#fff" stroke="#be0000" stroke-width="3.45"/>
<circle cx="1417.6" cy="1646.4" r="9.2" fill="#fff" stroke="#be0000" stroke-width="3.45"/>
<circle cx="1410.4" cy="1658.1" r="9.2" fill="#fff" stroke="#be0000" stroke-width="3.45"/>
<circle cx="1424.8" cy="1658.1" r="9.2" fill="#fff" stroke="#be0000" stroke-width="3.45"/>
<circle cx="1389.7" cy="1668.0" r="9.2" fill="#fff" stroke="#be0000" stroke-width="3.45"/>
<circle cx="1408.6" cy="1683.3" r="9.2" fill="#fff" stroke="#be0000" stroke-width="3.45"/>
<circle cx="1415.8" cy="1684.2" r="9.2" fill="#fff" stroke="#be0000" stroke-width="3.45"/>
<circle cx="1400.5" cy="1680.6" r="9.2" fill="#fff" stroke="#be0000" stroke-width="3.45"/>
<circle cx="1421.2" cy="1695.9" r="9.2" fill="#fff" stroke="#be0000" stroke-width="3.45"/>
<line x1="226.9" y1="466.3" x2="298.3" y2="466.3" stroke="#000" stroke-width="2.7" stroke-linecap="round"/>
<line x1="244.3" y1="462.7" x2="280.9" y2="462.7" stroke="#000" stroke-width="2.7" stroke-linecap="round"/>
<line x1="244.3" y1="470.4" x2="280.9" y2="470.4" stroke="#000" stroke-width="2.7" stroke-linecap="round"/>
<line x1="262.6" y1="462.7" x2="262.6" y2="470.4" stroke="#000" stroke-width="2.7" stroke-linecap="round"/>
<line x1="437.7" y1="230.7" x2="509.3" y2="230.7" stroke="#000" stroke-width="2.7" stroke-linecap="round"/>
<line x1="455.3" y1="226.7" x2="491.7" y2="226.7" stroke="#000" stroke-width="2.7" stroke-linecap="round"/>
<line x1="455.3" y1="234.4" x2="491.7" y2="234.4" stroke="#000" stroke-width="2.7" stroke-linecap="round"/>
<line x1="473.5" y1="226.7" x2="473.5" y2="234.4" stroke="#000" stroke-width="2.7" stroke-linecap="round"/>
<line x1="959.4" y1="460.9" x2="1000.0" y2="460.9" stroke="#000" stroke-width="2.7" stroke-linecap="round"/>
<line x1="969.3" y1="454.4" x2="990.1" y2="454.4" stroke="#000" stroke-width="2.7" stroke-linecap="round"/>
<line x1="969.3" y1="467.3" x2="990.1" y2="467.3" stroke="#000" stroke-width="2.7" stroke-linecap="round"/>
<line x1="979.7" y1="454.4" x2="979.7" y2="467.3" stroke="#000" stroke-width="2.7" stroke-linecap="round"/>
<line x1="1076.7" y1="473.1" x2="1117.3" y2="473.1" stroke="#000" stroke-width="2.7" stroke-linecap="round"/>
<line x1="1086.6" y1="469.1" x2="1107.4" y2="469.1" stroke="#000" stroke-width="2.7" stroke-linecap="round"/>
<line x1="1086.6" y1="477.3" x2="1107.4" y2="477.3" stroke="#000" stroke-width="2.7" stroke-linecap="round"/>
<line x1="1097.0" y1="469.1" x2="1097.0" y2="477.3" stroke="#000" stroke-width="2.7" stroke-linecap="round"/>
<line x1="1270.7" y1="214.7" x2="1311.3" y2="214.7" stroke="#000" stroke-width="2.7" stroke-linecap="round"/>
<line x1="1280.6" y1="210.7" x2="1301.4" y2="210.7" stroke="#000" stroke-width="2.7" stroke-linecap="round"/>
<line x1="1280.6" y1="218.7" x2="1301.4" y2="218.7" stroke="#000" stroke-width="2.7" stroke-linecap="round"/>
<line x1="1291.0" y1="210.7" x2="1291.0" y2="218.7" stroke="#000" stroke-width="2.7" stroke-linecap="round"/>
<line x1="1388.4" y1="248.7" x2="1429.0" y2="248.7" stroke="#000" stroke-width="2.7" stroke-linecap="round"/>
<line x1="1398.3" y1="243.6" x2="1419.1" y2="243.6" stroke="#000" stroke-width="2.7" stroke-linecap="round"/>
<line x1="1398.3" y1="254.0" x2="1419.1" y2="254.0" stroke="#000" stroke-width="2.7" stroke-linecap="round"/>
<line x1="1408.7" y1="243.6" x2="1408.7" y2="254.0" stroke="#000" stroke-width="2.7" stroke-linecap="round"/>
<line x1="254.6" y1="1092.6" x2="326.6" y2="1092.6" stroke="#000" stroke-width="2.7" stroke-linecap="round"/>
<line x1="272.2" y1="1086.6" x2="309.0" y2="1086.6" stroke="#000" stroke-width="2.7" stroke-linecap="round"/>
<line x1="272.2" y1="1098.2" x2="309.0" y2="1098.2" stroke="#000" stroke-width="2.7" stroke-linecap="round"/>
<line x1="290.6" y1="1086.6" x2="290.6" y2="1098.2" stroke="#000" stroke-width="2.7" stroke-linecap="round"/>
<line x1="451.7" y1="934.2" x2="523.3" y2="934.2" stroke="#000" stroke-width="2.7" stroke-linecap="round"/>
<line x1="469.5" y1="922.4" x2="505.5" y2="922.4" stroke="#000" stroke-width="2.7" stroke-linecap="round"/>
<line x1="469.5" y1="946.2" x2="505.5" y2="946.2" stroke="#000" stroke-width="2.7" stroke-linecap="round"/>
<line x1="487.5" y1="922.4" x2="487.5" y2="946.2" stroke="#000" stroke-width="2.7" stroke-linecap="round"/>
<line x1="959.4" y1="1110.3" x2="1000.0" y2="1110.3" stroke="#000" stroke-width="2.7" stroke-linecap="round"/>
<line x1="969.3" y1="1108.8" x2="990.1" y2="1108.8" stroke="#000" stroke-width="2.7" stroke-linecap="round"/>
<line x1="969.3" y1="1111.8" x2="990.1" y2="1111.8" stroke="#000" stroke-width="2.7" stroke-linecap="round"/>
<line x1="979.7" y1="1108.8" x2="979.7" y2="1111.8" stroke="#000" stroke-width="2.7" stroke-linecap="round"/>
<line x1="1076.3" y1="1074.0" x2="1117.3" y2="1074.0" stroke="#000" stroke-width="2.7" stroke-linecap="round"/>
<line x1="1086.4" y1="1064.0" x2="1107.2" y2="1064.0" stroke="#000" stroke-width="2.7" stroke-linecap="round"/>
<line x1="1086.4" y1="1085.1" x2="1107.2" y2="1085.1" stroke="#000" stroke-width="2.7" stroke-linecap="round"/>
<line x1="1096.8" y1="1064.0" x2="1096.8" y2="1085.1" stroke="#000" stroke-width="2.7" stroke-linecap="round"/>
<line x1="1270.7" y1="911.3" x2="1311.3" y2="911.3" stroke="#000" stroke-width="2.7" stroke-linecap="round"/>
<line x1="1280.8" y1="897.6" x2="1301.2" y2="897.6" stroke="#000" stroke-width="2.7" stroke-linecap="round"/>
<line x1="1280.8" y1="924.9" x2="1301.2" y2="924.9" stroke="#000" stroke-width="2.7" stroke-linecap="round"/>
<line x1="1291.0" y1="897.6" x2="1291.0" y2="924.9" stroke="#000" stroke-width="2.7" stroke-linecap="round"/>
<line x1="1388.3" y1="958.3" x2="1428.7" y2="958.3" stroke="#000" stroke-width="2.7" stroke-linecap="round"/>
<line x1="1398.2" y1="939.3" x2="1418.8" y2="939.3" stroke="#000" stroke-width="2.7" stroke-linecap="round"/>
<line x1="1398.2" y1="977.3" x2="1418.8" y2="977.3" stroke="#000" stroke-width="2.7" stroke-linecap="round"/>
<line x1="1408.5" y1="939.3" x2="1408.5" y2="977.3" stroke="#000" stroke-width="2.7" stroke-linecap="round"/>
<line x1="255.3" y1="1483.0" x2="327.3" y2="1483.0" stroke="#000" stroke-width="2.7" stroke-linecap="round"/>
<line x1="273.1" y1="1474.3" x2="309.5" y2="1474.3" stroke="#000" stroke-width="2.7" stroke-linecap="round"/>
<line x1="273.1" y1="1491.3" x2="309.5" y2="1491.3" stroke="#000" stroke-width="2.7" stroke-linecap="round"/>
<line x1="291.3" y1="1474.3" x2="291.3" y2="1491.3" stroke="#000" stroke-width="2.7" stroke-linecap="round"/>
<line x1="461.7" y1="1606.0" x2="534.1" y2="1606.0" stroke="#000" stroke-width="2.7" stroke-linecap="round"/>
<line x1="479.4" y1="1597.9" x2="516.4" y2="1597.9" stroke="#000" stroke-width="2.7" stroke-linecap="round"/>
<line x1="479.4" y1="1614.3" x2="516.4" y2="1614.3" stroke="#000" stroke-width="2.7" stroke-linecap="round"/>
<line x1="497.9" y1="1597.9" x2="497.9" y2="1614.3" stroke="#000" stroke-width="2.7" stroke-linecap="round"/>
<line x1="960.8" y1="1461.6" x2="1001.4" y2="1461.6" stroke="#000" stroke-width="2.7" stroke-linecap="round"/>
<line x1="970.9" y1="1448.6" x2="991.3" y2="1448.6" stroke="#000" stroke-width="2.7" stroke-linecap="round"/>
<line x1="970.9" y1="1474.4" x2="991.3" y2="1474.4" stroke="#000" stroke-width="2.7" stroke-linecap="round"/>
<line x1="981.1" y1="1448.6" x2="981.1" y2="1474.4" stroke="#000" stroke-width="2.7" stroke-linecap="round"/>
<line x1="1078.4" y1="1500.0" x2="1118.6" y2="1500.0" stroke="#000" stroke-width="2.7" stroke-linecap="round"/>
<line x1="1088.5" y1="1489.8" x2="1108.5" y2="1489.8" stroke="#000" stroke-width="2.7" stroke-linecap="round"/>
<line x1="1088.5" y1="1510.8" x2="1108.5" y2="1510.8" stroke="#000" stroke-width="2.7" stroke-linecap="round"/>
<line x1="1098.5" y1="1489.8" x2="1098.5" y2="1510.8" stroke="#000" stroke-width="2.7" stroke-linecap="round"/>
<line x1="1273.0" y1="1609.6" x2="1313.4" y2="1609.6" stroke="#000" stroke-width="2.7" stroke-linecap="round"/>
<line x1="1283.0" y1="1598.8" x2="1303.4" y2="1598.8" stroke="#000" stroke-width="2.7" stroke-linecap="round"/>
<line x1="1283.0" y1="1621.4" x2="1303.4" y2="1621.4" stroke="#000" stroke-width="2.7" stroke-linecap="round"/>
<line x1="1293.2" y1="1598.8" x2="1293.2" y2="1621.4" stroke="#000" stroke-width="2.7" stroke-linecap="round"/>
<line x1="1390.8" y1="1597.6" x2="1431.0" y2="1597.6" stroke="#000" stroke-width="2.7" stroke-linecap="round"/>
<line x1="1400.7" y1="1585.6" x2="1421.1" y2="1585.6" stroke="#000" stroke-width="2.7" stroke-linecap="round"/>
<line x1="1400.7" y1="1609.4" x2="1421.1" y2="1609.4" stroke="#000" stroke-width="2.7" stroke-linecap="round"/>
<line x1="1410.9" y1="1585.6" x2="1410.9" y2="1609.4" stroke="#000" stroke-width="2.7" stroke-linecap="round"/>
<line x1="264.4" y1="113.2" x2="475.6" y2="113.2" stroke="#000" stroke-width="2.7" stroke-linecap="round"/>
<text x="346.2" y="117.6" font-size="40" letter-spacing="1.44">***</text>
<line x1="1038.7" y1="85.5" x2="1344.8" y2="85.5" stroke="#000" stroke-width="2.7" stroke-linecap="round"/>
<text x="1177.4" y="88.9" font-size="40" letter-spacing="1.44">**</text>
<line x1="1288.0" y1="131.9" x2="1412.0" y2="131.9" stroke="#000" stroke-width="2.7" stroke-linecap="round"/>
<text x="1324.3" y="136.9" font-size="40" letter-spacing="1.44">***</text>
<line x1="260.0" y1="670.4" x2="498.7" y2="670.4" stroke="#000" stroke-width="2.7" stroke-linecap="round"/>
<text x="354.6" y="674.7" font-size="40" letter-spacing="1.44">***</text>
<line x1="1038.2" y1="640.5" x2="1350.5" y2="640.5" stroke="#000" stroke-width="2.7" stroke-linecap="round"/>
<text x="1171.2" y="645.5" font-size="40" letter-spacing="1.44">***</text>
<line x1="1290.7" y1="681.6" x2="1409.4" y2="681.6" stroke="#000" stroke-width="2.7" stroke-linecap="round"/>
<text x="1342.3" y="688.0" font-size="40" letter-spacing="1.44">*</text>
<line x1="981.7" y1="793.1" x2="1095.6" y2="793.1" stroke="#000" stroke-width="2.7" stroke-linecap="round"/>
<text x="1024.0" y="798.9" font-size="40" letter-spacing="1.44">**</text>
<line x1="294.1" y1="1266.3" x2="498.4" y2="1266.3" stroke="#000" stroke-width="2.7" stroke-linecap="round"/>
<text x="368.0" y="1270.6" font-size="40" letter-spacing="1.44">***</text>
<line x1="1030.0" y1="1236.4" x2="1359.0" y2="1236.4" stroke="#000" stroke-width="2.7" stroke-linecap="round"/>
<text x="1178.7" y="1242.7" font-size="40" letter-spacing="1.44">**</text>
<line x1="973.2" y1="1274.2" x2="1095.8" y2="1274.2" stroke="#000" stroke-width="2.7" stroke-linecap="round"/>
<text x="1030.8" y="1280.5" font-size="40" letter-spacing="1.44">*</text>
</svg></body></html>
